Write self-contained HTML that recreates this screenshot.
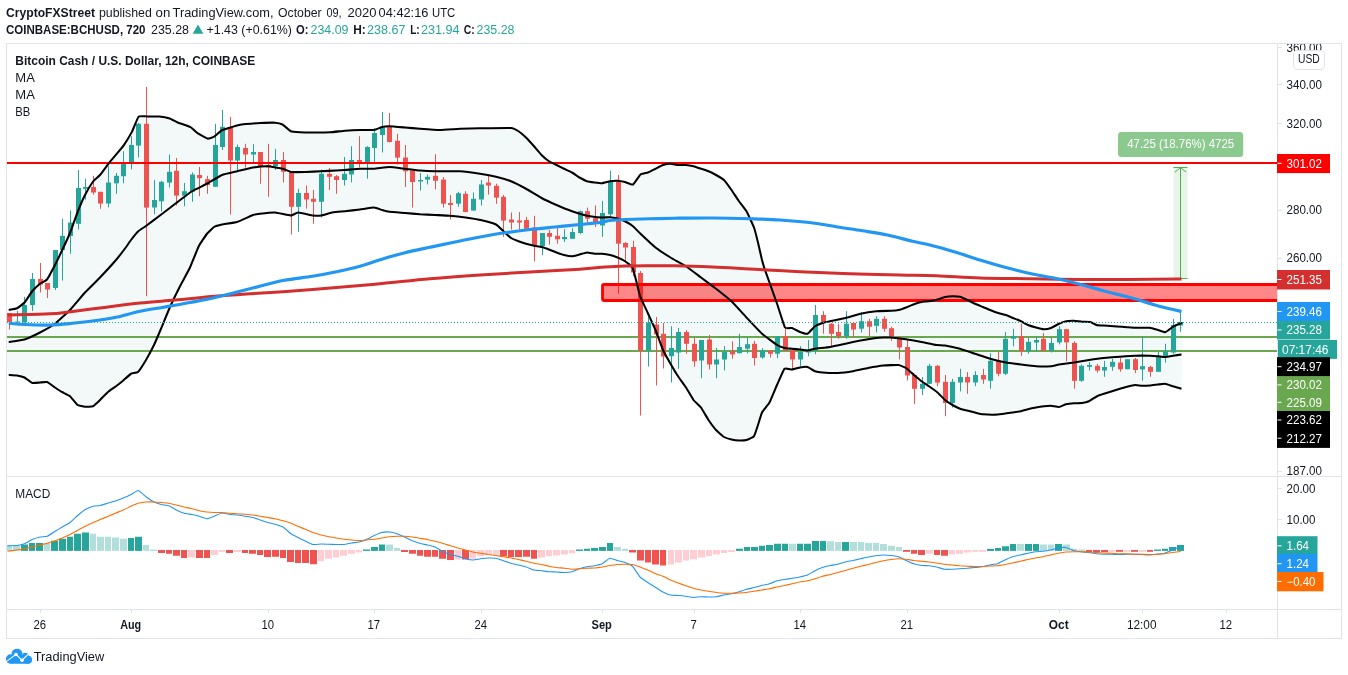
<!DOCTYPE html>
<html lang="en"><head><meta charset="utf-8"><title>BCHUSD chart</title>
<style>html,body{margin:0;padding:0;background:#fff}svg{display:block;will-change:transform}</style></head>
<body>
<svg width="1348" height="675" viewBox="0 0 1348 675" font-family="Liberation Sans, Arial, sans-serif">
<text x="6.00" y="16.60" font-size="12" fill="#131722" font-weight="bold" textLength="89.00" lengthAdjust="spacingAndGlyphs" >CryptoFXStreet</text>
<text x="98.90" y="16.60" font-size="12" fill="#131722" textLength="52.90" lengthAdjust="spacingAndGlyphs" >published</text>
<text x="155.60" y="16.60" font-size="12" fill="#131722" textLength="14.80" lengthAdjust="spacingAndGlyphs" >on</text>
<text x="172.60" y="16.60" font-size="12" fill="#131722" textLength="101.00" lengthAdjust="spacingAndGlyphs" >TradingView.com,</text>
<text x="278.00" y="16.60" font-size="12" fill="#131722" textLength="43.60" lengthAdjust="spacingAndGlyphs" >October</text>
<text x="326.40" y="16.60" font-size="12" fill="#131722" textLength="15.20" lengthAdjust="spacingAndGlyphs" >09,</text>
<text x="347.40" y="16.60" font-size="12" fill="#131722" textLength="29.00" lengthAdjust="spacingAndGlyphs" >2020</text>
<text x="378.60" y="16.60" font-size="12" fill="#131722" textLength="49.80" lengthAdjust="spacingAndGlyphs" >04:42:16</text>
<text x="432.00" y="16.60" font-size="12" fill="#131722" textLength="23.30" lengthAdjust="spacingAndGlyphs" >UTC</text>
<text x="6.00" y="33.60" font-size="12" fill="#131722" font-weight="bold" textLength="139.50" lengthAdjust="spacingAndGlyphs" >COINBASE:BCHUSD, 720</text>
<text x="151.00" y="33.60" font-size="12" fill="#131722" textLength="38.00" lengthAdjust="spacingAndGlyphs" >235.28</text>
<polygon points="192.7,33.7 198,24.4 203.3,33.7" fill="#26a69a"/>
<text x="206.50" y="33.60" font-size="12" fill="#131722" textLength="85.50" lengthAdjust="spacingAndGlyphs" >+1.43 (+0.61%)</text>
<text x="296.00" y="33.60" font-size="12" fill="#131722" font-weight="bold" textLength="12.50" lengthAdjust="spacingAndGlyphs" >O:</text>
<text x="310.50" y="33.60" font-size="12" fill="#26a69a" textLength="38.00" lengthAdjust="spacingAndGlyphs" >234.09</text>
<text x="353.20" y="33.60" font-size="12" fill="#131722" font-weight="bold" textLength="12.50" lengthAdjust="spacingAndGlyphs" >H:</text>
<text x="367.00" y="33.60" font-size="12" fill="#26a69a" textLength="38.50" lengthAdjust="spacingAndGlyphs" >238.67</text>
<text x="410.20" y="33.60" font-size="12" fill="#131722" font-weight="bold" textLength="9.50" lengthAdjust="spacingAndGlyphs" >L:</text>
<text x="421.00" y="33.60" font-size="12" fill="#26a69a" textLength="38.50" lengthAdjust="spacingAndGlyphs" >231.94</text>
<text x="463.80" y="33.60" font-size="12" fill="#131722" font-weight="bold" textLength="11.00" lengthAdjust="spacingAndGlyphs" >C:</text>
<text x="476.50" y="33.60" font-size="12" fill="#26a69a" textLength="38.00" lengthAdjust="spacingAndGlyphs" >235.28</text>
<g fill="none" stroke="#e0e3eb" stroke-width="1" shape-rendering="crispEdges">
<rect x="6.5" y="43.5" width="1335" height="595"/>
<path d="M1277.5 44V638M7 476.5H1341M7 609.5H1341"/>
</g>
<defs><clipPath id="cm"><rect x="7" y="44" width="1270" height="432"/></clipPath>
<clipPath id="cd"><rect x="7" y="477" width="1270" height="132"/></clipPath>
<clipPath id="ca"><rect x="1278" y="44" width="63" height="432"/></clipPath></defs>
<g clip-path="url(#cm)">
<path d="M8.75 310.00C9.23 309.90 16.08 308.69 17.00 308.25C17.92 307.81 23.61 303.49 24.50 302.50C25.39 301.51 31.35 292.34 32.25 291.25C33.15 290.16 39.14 284.44 40.00 283.75C40.86 283.06 46.12 280.59 47.00 279.50C47.88 278.41 54.12 266.69 55.00 265.00C55.88 263.31 61.12 252.37 62.00 250.50C62.88 248.63 69.07 235.30 70.00 233.00C70.93 230.70 77.12 213.22 78.00 211.00C78.88 208.78 84.11 196.74 85.00 195.00C85.89 193.26 92.38 182.42 93.25 181.25C94.12 180.08 99.09 176.06 100.00 175.00C100.91 173.94 107.97 164.29 108.90 163.10C109.83 161.91 115.14 155.64 116.00 154.60C116.86 153.56 122.77 146.62 123.70 145.30C124.63 143.98 131.03 133.57 131.90 131.90C132.77 130.23 137.74 117.50 138.60 116.60C139.46 115.70 145.49 116.40 146.70 116.40C147.91 116.40 157.96 116.47 159.30 116.60C160.64 116.73 168.66 118.27 169.70 118.60C170.74 118.93 175.99 121.80 177.20 122.30C178.41 122.80 189.29 126.55 190.50 127.20C191.71 127.85 196.90 132.74 197.90 133.40C198.90 134.06 206.65 138.41 207.60 138.60C208.55 138.79 213.38 137.18 214.20 136.70C215.02 136.22 220.74 130.94 221.70 130.40C222.66 129.86 229.65 127.80 230.60 127.50C231.55 127.20 237.14 125.50 238.00 125.30C238.86 125.10 244.11 124.23 245.40 124.10C246.69 123.97 258.47 123.08 260.20 123.00C261.93 122.92 273.80 122.61 275.10 122.70C276.40 122.79 281.59 124.00 282.50 124.50C283.41 125.00 289.68 130.75 290.70 131.20C291.72 131.65 298.70 132.12 300.00 132.20C301.30 132.28 311.25 132.49 313.00 132.50C314.75 132.51 328.13 132.40 330.00 132.30C331.87 132.20 343.25 130.88 345.00 130.75C346.75 130.62 358.31 130.04 360.00 130.00C361.69 129.96 372.72 130.18 374.00 130.00C375.28 129.82 381.10 127.22 382.00 127.00C382.90 126.78 388.16 126.22 389.50 126.25C390.84 126.28 403.22 127.35 405.00 127.50C406.78 127.65 417.96 128.60 420.00 128.75C422.04 128.90 437.67 130.00 440.00 130.00C442.33 130.00 457.67 128.85 460.00 128.75C462.33 128.65 477.02 128.29 480.00 128.25C482.98 128.21 508.75 127.83 511.00 128.00C513.25 128.18 517.62 130.70 518.50 131.25C519.38 131.80 525.10 136.62 526.00 137.50C526.90 138.38 533.10 145.23 534.00 146.25C534.90 147.27 540.62 154.12 541.50 155.00C542.38 155.88 548.12 160.67 549.00 161.25C549.88 161.83 555.62 164.56 556.50 165.00C557.38 165.44 563.10 168.31 564.00 168.75C564.90 169.19 571.10 171.99 572.00 172.50C572.90 173.01 578.62 176.99 579.50 177.50C580.38 178.01 586.12 180.96 587.00 181.25C587.88 181.54 593.62 182.38 594.50 182.50C595.38 182.62 601.10 183.32 602.00 183.25C602.90 183.18 609.10 181.40 610.00 181.25C610.90 181.10 616.62 180.71 617.50 180.75C618.38 180.79 624.10 181.78 625.00 182.00C625.90 182.22 632.10 184.94 633.00 184.50C633.90 184.06 639.62 175.20 640.50 174.50C641.38 173.80 647.12 172.84 648.00 172.50C648.88 172.16 654.62 169.19 655.50 168.75C656.38 168.31 662.12 165.29 663.00 165.00C663.88 164.71 669.62 163.75 670.50 163.75C671.38 163.75 677.10 164.93 678.00 165.00C678.90 165.07 685.10 164.93 686.00 165.00C686.90 165.07 692.62 166.03 693.50 166.25C694.38 166.47 700.12 168.46 701.00 168.75C701.88 169.04 707.62 170.89 708.50 171.25C709.38 171.61 715.10 174.49 716.00 175.00C716.90 175.51 723.10 179.12 724.00 180.00C724.90 180.88 730.62 188.76 731.50 190.00C732.38 191.24 738.12 200.01 739.00 201.25C739.88 202.49 745.62 209.72 746.50 211.25C747.38 212.78 753.33 225.68 754.00 227.50C754.67 229.32 757.53 240.60 758.00 242.50C758.47 244.40 761.59 258.40 762.00 260.00C762.41 261.60 764.56 268.69 765.00 270.00C765.44 271.31 768.77 280.46 769.50 282.50C770.23 284.54 776.60 302.38 777.50 305.00C778.40 307.62 784.15 326.16 785.00 327.50C785.85 328.84 791.12 327.74 792.00 328.00C792.88 328.26 799.10 331.66 800.00 332.00C800.90 332.34 806.62 334.09 807.50 333.75C808.38 333.41 814.12 326.88 815.00 326.25C815.88 325.62 821.62 323.29 822.50 323.00C823.38 322.71 828.66 321.54 830.00 321.25C831.34 320.96 843.72 318.44 845.50 318.00C847.28 317.56 858.72 314.14 860.50 313.75C862.28 313.36 874.22 311.43 876.00 311.25C877.78 311.07 889.69 310.82 891.00 310.75C892.31 310.68 897.62 310.19 898.50 310.00C899.38 309.81 905.10 307.84 906.00 307.50C906.90 307.16 913.10 304.57 914.00 304.25C914.90 303.93 920.62 302.18 921.50 302.00C922.38 301.82 928.07 301.40 929.00 301.25C929.93 301.10 936.57 299.75 937.50 299.50C938.43 299.25 944.12 297.19 945.00 297.00C945.88 296.81 951.62 296.26 952.50 296.25C953.38 296.24 959.12 296.53 960.00 296.75C960.88 296.97 966.62 299.59 967.50 300.00C968.38 300.41 974.10 303.34 975.00 303.75C975.90 304.16 982.12 306.64 983.00 307.00C983.88 307.36 989.12 309.65 990.00 310.00C990.88 310.35 997.07 312.71 998.00 313.00C998.93 313.29 1005.12 314.71 1006.00 315.00C1006.88 315.29 1012.12 317.64 1013.00 318.00C1013.88 318.36 1020.12 320.84 1021.00 321.25C1021.88 321.66 1027.12 324.64 1028.00 325.00C1028.88 325.36 1035.07 327.25 1036.00 327.50C1036.93 327.75 1043.12 329.22 1044.00 329.25C1044.88 329.28 1050.12 328.32 1051.00 328.00C1051.88 327.68 1058.12 324.14 1059.00 323.75C1059.88 323.36 1065.12 321.43 1066.00 321.25C1066.88 321.07 1073.07 320.72 1074.00 320.75C1074.93 320.78 1081.04 321.63 1082.00 321.70C1082.96 321.77 1089.57 321.71 1090.40 321.90C1091.23 322.09 1095.51 324.68 1096.30 324.90C1097.09 325.12 1102.79 325.51 1104.00 325.60C1105.21 325.69 1115.66 326.31 1117.00 326.40C1118.34 326.49 1125.95 327.12 1127.00 327.20C1128.05 327.28 1133.68 327.76 1135.00 327.80C1136.32 327.84 1148.36 327.67 1149.70 327.80C1151.04 327.93 1157.09 329.74 1158.00 330.00C1158.91 330.26 1164.40 332.51 1165.30 332.30C1166.20 332.09 1172.53 326.95 1173.50 326.40C1174.47 325.85 1181.50 323.10 1182.00 322.90L1181.50 388.75C1181.00 388.60 1173.96 386.54 1173.00 386.25C1172.04 385.96 1165.88 383.85 1165.00 383.75C1164.12 383.65 1158.88 384.40 1158.00 384.50C1157.12 384.60 1150.93 385.43 1150.00 385.50C1149.07 385.57 1142.88 385.78 1142.00 385.75C1141.12 385.72 1135.88 384.94 1135.00 385.00C1134.12 385.06 1127.88 386.53 1127.00 386.75C1126.12 386.97 1120.88 388.49 1120.00 388.75C1119.12 389.01 1112.93 390.96 1112.00 391.25C1111.07 391.54 1104.88 393.46 1104.00 393.75C1103.12 394.04 1097.88 395.81 1097.00 396.25C1096.12 396.69 1089.88 400.86 1089.00 401.25C1088.12 401.64 1082.88 402.88 1082.00 403.00C1081.12 403.12 1074.93 403.18 1074.00 403.25C1073.07 403.32 1066.88 404.03 1066.00 404.25C1065.12 404.47 1059.88 406.91 1059.00 407.00C1058.12 407.09 1051.88 405.79 1051.00 405.75C1050.12 405.71 1044.88 406.15 1044.00 406.25C1043.12 406.35 1036.93 407.32 1036.00 407.50C1035.07 407.68 1028.88 409.03 1028.00 409.25C1027.12 409.47 1021.88 411.06 1021.00 411.25C1020.12 411.44 1014.34 412.31 1013.00 412.50C1011.66 412.69 999.75 414.40 998.00 414.50C996.25 414.60 984.34 414.37 983.00 414.25C981.66 414.13 976.34 412.82 975.00 412.50C973.66 412.18 961.31 409.19 960.00 408.75C958.69 408.31 953.38 405.51 952.50 405.00C951.62 404.49 945.88 400.73 945.00 400.00C944.12 399.27 938.43 393.30 937.50 392.50C936.57 391.70 929.93 386.91 929.00 386.25C928.07 385.59 922.38 381.91 921.50 381.25C920.62 380.59 914.90 375.77 914.00 375.00C913.10 374.23 906.90 368.58 906.00 368.00C905.10 367.42 899.81 365.15 898.50 365.00C897.19 364.85 885.28 365.32 883.50 365.50C881.72 365.68 869.78 367.66 868.00 368.00C866.22 368.34 854.75 370.96 853.00 371.25C851.25 371.54 839.78 372.93 838.00 373.00C836.22 373.07 823.84 372.60 822.50 372.50C821.16 372.40 815.88 371.57 815.00 371.25C814.12 370.93 808.38 367.22 807.50 367.00C806.62 366.78 800.90 367.35 800.00 367.50C799.10 367.65 792.90 369.43 792.00 369.50C791.10 369.57 785.38 367.85 784.50 368.75C783.62 369.65 777.88 383.03 777.00 385.00C776.12 386.97 770.38 400.90 769.50 402.50C768.62 404.10 762.67 411.19 762.00 412.50C761.33 413.81 758.47 423.61 758.00 425.00C757.53 426.39 754.67 435.38 754.00 436.25C753.33 437.12 747.38 439.75 746.50 440.00C745.62 440.25 739.88 440.53 739.00 440.50C738.12 440.47 732.38 439.70 731.50 439.50C730.62 439.30 724.90 437.55 724.00 437.00C723.10 436.45 716.90 430.99 716.00 430.00C715.10 429.01 709.38 421.31 708.50 420.00C707.62 418.69 701.88 408.67 701.00 407.50C700.12 406.33 694.38 401.17 693.50 400.00C692.62 398.83 686.90 388.89 686.00 387.50C685.10 386.11 678.90 377.64 678.00 376.25C677.10 374.86 671.38 365.28 670.50 363.75C669.62 362.22 663.88 351.97 663.00 350.00C662.12 348.03 656.38 332.13 655.50 330.00C654.62 327.87 648.90 315.48 648.00 313.50C647.10 311.52 640.70 297.95 640.00 296.00C639.30 294.05 636.44 281.66 636.00 280.00C635.56 278.34 633.14 268.59 632.50 267.50C631.86 266.41 625.88 261.83 625.00 261.25C624.12 260.67 618.38 257.86 617.50 257.50C616.62 257.14 610.90 255.22 610.00 255.00C609.10 254.78 602.90 253.82 602.00 253.75C601.10 253.68 595.38 253.82 594.50 253.75C593.62 253.68 587.88 252.46 587.00 252.50C586.12 252.54 580.38 254.28 579.50 254.50C578.62 254.72 572.90 256.22 572.00 256.25C571.10 256.28 564.90 255.22 564.00 255.00C563.10 254.78 557.38 252.82 556.50 252.50C555.62 252.18 549.88 249.82 549.00 249.50C548.12 249.18 542.38 247.22 541.50 247.00C540.62 246.78 534.90 245.94 534.00 245.75C533.10 245.56 526.90 244.01 526.00 243.75C525.10 243.49 519.38 241.59 518.50 241.25C517.62 240.91 511.88 238.58 511.00 238.00C510.12 237.42 504.38 232.04 503.50 231.25C502.62 230.46 497.34 225.16 496.00 224.50C494.66 223.84 482.28 220.41 480.50 220.00C478.72 219.59 467.28 217.75 465.50 217.50C463.72 217.25 451.78 215.90 450.00 215.75C448.22 215.60 436.75 215.09 435.00 215.00C433.25 214.91 421.75 214.37 420.00 214.25C418.25 214.13 406.78 213.15 405.00 213.00C403.22 212.85 390.84 211.93 389.50 211.75C388.16 211.57 382.90 210.25 382.00 210.00C381.10 209.75 375.28 207.53 374.00 207.50C372.72 207.47 361.69 209.28 360.00 209.50C358.31 209.72 346.57 211.09 345.00 211.25C343.43 211.41 334.40 212.05 333.00 212.30C331.60 212.55 322.17 215.31 321.00 215.50C319.83 215.69 314.34 215.68 313.00 215.50C311.66 215.32 299.28 212.50 298.00 212.50C296.72 212.50 292.34 215.50 291.00 215.50C289.66 215.50 276.81 212.60 275.00 212.50C273.19 212.40 261.28 213.60 260.00 213.75C258.72 213.90 254.34 214.52 253.00 215.00C251.66 215.48 238.81 221.45 237.00 222.00C235.19 222.55 223.34 224.21 222.00 224.50C220.66 224.79 214.88 226.46 214.00 227.00C213.12 227.54 207.89 232.63 207.00 233.75C206.11 234.87 199.74 244.28 198.75 246.25C197.76 248.22 191.09 265.17 190.00 267.50C188.91 269.83 181.17 283.95 180.00 286.25C178.83 288.55 171.11 304.52 170.00 307.00C168.89 309.48 161.93 326.53 161.00 328.75C160.07 330.97 154.88 343.18 154.00 345.00C153.12 346.82 146.93 358.43 146.00 360.00C145.07 361.57 138.88 371.20 138.00 372.00C137.12 372.80 131.88 373.24 131.00 373.75C130.12 374.26 123.88 380.02 123.00 380.75C122.12 381.48 116.88 385.59 116.00 386.25C115.12 386.91 108.93 391.20 108.00 392.00C107.07 392.80 100.88 399.17 100.00 400.00C99.12 400.83 93.88 405.86 93.00 406.25C92.12 406.64 85.90 406.82 85.00 406.75C84.10 406.68 78.38 405.61 77.50 405.00C76.62 404.39 70.90 397.01 70.00 396.25C69.10 395.49 62.88 392.51 62.00 392.00C61.12 391.49 55.88 388.08 55.00 387.50C54.12 386.92 47.88 382.29 47.00 382.00C46.12 381.71 40.86 382.44 40.00 382.50C39.14 382.56 33.15 383.29 32.25 383.00C31.35 382.71 25.39 377.94 24.50 377.50C23.61 377.06 17.92 375.65 17.00 375.50C16.08 375.35 9.23 375.03 8.75 375.00 L7 375.00 L7 310.00 Z" fill="#f3f9f9" stroke="none"/>
<rect x="7" y="336" width="1270" height="2" fill="#6aa84f"/>
<rect x="7" y="350" width="1270" height="2" fill="#6aa84f"/>
<rect x="1173.5" y="167" width="14" height="111.5" fill="#e8f4e8"/>
<path d="M1180.5 167V278.5M1173.5 167.5H1187.5M1173.5 278.5H1187.5M1174.8 172.2L1180.5 167.5L1186.2 172.2" fill="none" stroke="#4caf50" stroke-width="1"/>
<g fill="#26a69a"><rect x="17" y="311.0" width="1" height="11.5"/><rect x="15" y="321.5" width="5" height="1.0"/><rect x="24" y="297.0" width="1" height="25.5"/><rect x="22" y="305.0" width="5" height="17.5"/><rect x="32" y="273.0" width="1" height="38.0"/><rect x="30" y="279.0" width="5" height="26.0"/><rect x="55" y="250.0" width="1" height="40.0"/><rect x="53" y="250.0" width="5" height="38.0"/><rect x="62" y="218.8" width="1" height="61.8"/><rect x="60" y="235.8" width="5" height="14.2"/><rect x="70" y="210.5" width="1" height="43.2"/><rect x="68" y="222.5" width="5" height="13.5"/><rect x="78" y="170.0" width="1" height="59.5"/><rect x="76" y="188.0" width="5" height="35.8"/><rect x="85" y="178.8" width="1" height="20.8"/><rect x="83" y="187.0" width="5" height="1.8"/><rect x="108" y="166.2" width="1" height="41.2"/><rect x="106" y="182.5" width="5" height="21.0"/><rect x="116" y="173.0" width="1" height="20.8"/><rect x="114" y="175.8" width="5" height="7.5"/><rect x="123" y="151.2" width="1" height="32.0"/><rect x="121" y="163.0" width="5" height="13.2"/><rect x="131" y="136.2" width="1" height="33.2"/><rect x="129" y="145.0" width="5" height="18.5"/><rect x="138" y="123.0" width="1" height="34.5"/><rect x="136" y="123.8" width="5" height="21.8"/><rect x="154" y="180.0" width="1" height="34.2"/><rect x="152" y="200.0" width="5" height="7.5"/><rect x="161" y="180.8" width="1" height="30.5"/><rect x="159" y="181.8" width="5" height="19.5"/><rect x="169" y="154.5" width="1" height="33.0"/><rect x="167" y="171.8" width="5" height="10.8"/><rect x="184" y="183.0" width="1" height="23.2"/><rect x="182" y="191.2" width="5" height="4.5"/><rect x="192" y="172.5" width="1" height="29.2"/><rect x="190" y="174.5" width="5" height="17.2"/><rect x="215" y="123.8" width="1" height="63.0"/><rect x="213" y="145.0" width="5" height="41.8"/><rect x="222" y="110.0" width="1" height="40.0"/><rect x="220" y="126.8" width="5" height="20.2"/><rect x="237" y="144.5" width="1" height="26.0"/><rect x="235" y="147.0" width="5" height="13.5"/><rect x="253" y="144.2" width="1" height="19.5"/><rect x="251" y="152.0" width="5" height="2.5"/><rect x="275" y="148.8" width="1" height="21.2"/><rect x="273" y="160.0" width="5" height="6.2"/><rect x="298" y="188.8" width="1" height="43.0"/><rect x="296" y="193.0" width="5" height="13.8"/><rect x="321" y="169.5" width="1" height="48.0"/><rect x="319" y="173.8" width="5" height="28.0"/><rect x="344" y="157.0" width="1" height="28.5"/><rect x="342" y="173.8" width="5" height="6.2"/><rect x="351" y="146.2" width="1" height="36.2"/><rect x="349" y="160.0" width="5" height="14.5"/><rect x="367" y="146.2" width="1" height="32.5"/><rect x="365" y="147.0" width="5" height="16.8"/><rect x="374" y="128.0" width="1" height="34.5"/><rect x="372" y="133.0" width="5" height="15.0"/><rect x="382" y="112.0" width="1" height="40.5"/><rect x="380" y="127.5" width="5" height="7.5"/><rect x="420" y="173.0" width="1" height="17.5"/><rect x="418" y="180.0" width="5" height="1.5"/><rect x="427" y="174.5" width="1" height="10.0"/><rect x="425" y="176.8" width="5" height="2.8"/><rect x="458" y="191.8" width="1" height="15.0"/><rect x="456" y="193.2" width="5" height="10.5"/><rect x="473" y="192.5" width="1" height="18.0"/><rect x="471" y="198.8" width="5" height="11.8"/><rect x="481" y="180.0" width="1" height="25.5"/><rect x="479" y="184.5" width="5" height="15.0"/><rect x="542" y="233.0" width="1" height="22.0"/><rect x="540" y="233.0" width="5" height="13.2"/><rect x="564" y="229.2" width="1" height="12.8"/><rect x="562" y="237.0" width="5" height="2.2"/><rect x="572" y="228.2" width="1" height="10.5"/><rect x="570" y="232.0" width="5" height="6.8"/><rect x="580" y="210.8" width="1" height="23.0"/><rect x="578" y="211.2" width="5" height="21.8"/><rect x="602" y="200.8" width="1" height="36.0"/><rect x="600" y="213.0" width="5" height="12.5"/><rect x="610" y="170.8" width="1" height="46.2"/><rect x="608" y="181.8" width="5" height="32.5"/><rect x="648" y="317.0" width="1" height="49.5"/><rect x="646" y="322.5" width="5" height="28.2"/><rect x="671" y="326.2" width="1" height="56.2"/><rect x="669" y="348.0" width="5" height="8.2"/><rect x="678" y="328.0" width="1" height="40.8"/><rect x="676" y="332.0" width="5" height="20.5"/><rect x="701" y="340.0" width="1" height="38.2"/><rect x="699" y="340.0" width="5" height="20.5"/><rect x="716" y="348.0" width="1" height="30.2"/><rect x="714" y="359.5" width="5" height="5.0"/><rect x="724" y="346.2" width="1" height="24.2"/><rect x="722" y="352.0" width="5" height="7.5"/><rect x="739" y="333.8" width="1" height="19.5"/><rect x="737" y="347.0" width="5" height="6.2"/><rect x="747" y="337.5" width="1" height="15.8"/><rect x="745" y="344.2" width="5" height="4.5"/><rect x="762" y="348.0" width="1" height="10.8"/><rect x="760" y="350.5" width="5" height="7.0"/><rect x="777" y="336.2" width="1" height="22.0"/><rect x="775" y="336.2" width="5" height="17.5"/><rect x="800" y="346.2" width="1" height="20.0"/><rect x="798" y="352.0" width="5" height="7.5"/><rect x="808" y="340.0" width="1" height="16.2"/><rect x="806" y="349.5" width="5" height="3.0"/><rect x="815" y="305.0" width="1" height="49.2"/><rect x="813" y="315.0" width="5" height="35.8"/><rect x="846" y="311.2" width="1" height="27.5"/><rect x="844" y="323.8" width="5" height="12.5"/><rect x="861" y="312.0" width="1" height="20.5"/><rect x="859" y="321.2" width="5" height="7.5"/><rect x="876" y="316.2" width="1" height="16.2"/><rect x="874" y="318.8" width="5" height="7.0"/><rect x="922" y="377.0" width="1" height="18.0"/><rect x="920" y="383.8" width="5" height="5.0"/><rect x="929" y="363.8" width="1" height="20.0"/><rect x="927" y="365.8" width="5" height="18.0"/><rect x="952" y="378.8" width="1" height="28.8"/><rect x="950" y="381.8" width="5" height="21.2"/><rect x="960" y="368.8" width="1" height="22.5"/><rect x="958" y="377.0" width="5" height="5.5"/><rect x="975" y="371.2" width="1" height="15.0"/><rect x="973" y="375.0" width="5" height="7.5"/><rect x="990" y="353.2" width="1" height="35.5"/><rect x="988" y="360.8" width="5" height="20.0"/><rect x="1005" y="332.0" width="1" height="43.0"/><rect x="1003" y="338.8" width="5" height="35.0"/><rect x="1013" y="328.8" width="1" height="17.5"/><rect x="1011" y="336.2" width="5" height="2.5"/><rect x="1028" y="337.5" width="1" height="16.2"/><rect x="1026" y="341.8" width="5" height="9.5"/><rect x="1036" y="336.2" width="1" height="15.0"/><rect x="1034" y="340.0" width="5" height="2.5"/><rect x="1051" y="337.5" width="1" height="15.0"/><rect x="1049" y="343.0" width="5" height="7.8"/><rect x="1059" y="326.2" width="1" height="18.2"/><rect x="1057" y="329.2" width="5" height="13.2"/><rect x="1081" y="364.5" width="1" height="17.2"/><rect x="1079" y="365.8" width="5" height="15.0"/><rect x="1089" y="362.0" width="1" height="8.5"/><rect x="1087" y="365.0" width="5" height="1.8"/><rect x="1104" y="360.8" width="1" height="16.0"/><rect x="1102" y="367.0" width="5" height="3.5"/><rect x="1112" y="358.8" width="1" height="12.0"/><rect x="1110" y="361.8" width="5" height="5.0"/><rect x="1127" y="359.2" width="1" height="10.0"/><rect x="1125" y="359.2" width="5" height="10.0"/><rect x="1142" y="336.2" width="1" height="44.5"/><rect x="1140" y="366.2" width="5" height="3.2"/><rect x="1158" y="352.0" width="1" height="19.8"/><rect x="1156" y="357.0" width="5" height="14.8"/><rect x="1165" y="343.8" width="1" height="18.8"/><rect x="1163" y="351.2" width="5" height="6.2"/><rect x="1173" y="318.8" width="1" height="35.0"/><rect x="1171" y="325.0" width="5" height="27.5"/><rect x="1180" y="311.2" width="1" height="20.5"/><rect x="1178" y="322.0" width="5" height="3.5"/></g>
<g fill="#ef5350"><rect x="9" y="313.0" width="1" height="16.5"/><rect x="7" y="313.0" width="5" height="9.0"/><rect x="40" y="263.0" width="1" height="29.5"/><rect x="38" y="279.0" width="5" height="5.5"/><rect x="47" y="283.0" width="1" height="15.0"/><rect x="45" y="283.0" width="5" height="6.5"/><rect x="93" y="175.8" width="1" height="18.8"/><rect x="91" y="187.0" width="5" height="5.5"/><rect x="100" y="191.8" width="1" height="17.0"/><rect x="98" y="191.8" width="5" height="11.8"/><rect x="146" y="87.0" width="1" height="209.2"/><rect x="144" y="123.8" width="5" height="83.8"/><rect x="176" y="158.0" width="1" height="47.5"/><rect x="174" y="170.8" width="5" height="24.8"/><rect x="199" y="167.0" width="1" height="29.2"/><rect x="197" y="175.0" width="5" height="3.2"/><rect x="207" y="175.8" width="1" height="18.0"/><rect x="205" y="179.2" width="5" height="5.8"/><rect x="230" y="117.0" width="1" height="97.5"/><rect x="228" y="127.5" width="5" height="33.0"/><rect x="245" y="143.8" width="1" height="23.8"/><rect x="243" y="148.0" width="5" height="6.5"/><rect x="260" y="152.0" width="1" height="31.8"/><rect x="258" y="152.0" width="5" height="14.2"/><rect x="268" y="143.8" width="1" height="53.0"/><rect x="266" y="165.0" width="5" height="2.5"/><rect x="283" y="152.0" width="1" height="30.5"/><rect x="281" y="160.0" width="5" height="11.8"/><rect x="291" y="172.0" width="1" height="62.5"/><rect x="289" y="172.0" width="5" height="34.8"/><rect x="306" y="185.5" width="1" height="23.2"/><rect x="304" y="193.0" width="5" height="6.5"/><rect x="313" y="190.0" width="1" height="33.8"/><rect x="311" y="198.8" width="5" height="3.0"/><rect x="329" y="168.0" width="1" height="22.0"/><rect x="327" y="173.8" width="5" height="3.0"/><rect x="336" y="175.0" width="1" height="18.8"/><rect x="334" y="176.2" width="5" height="3.8"/><rect x="359" y="136.2" width="1" height="31.2"/><rect x="357" y="160.0" width="5" height="3.8"/><rect x="389" y="113.0" width="1" height="29.5"/><rect x="387" y="127.0" width="5" height="15.0"/><rect x="397" y="133.8" width="1" height="30.8"/><rect x="395" y="140.8" width="5" height="16.8"/><rect x="405" y="145.0" width="1" height="42.0"/><rect x="403" y="157.5" width="5" height="13.8"/><rect x="412" y="170.0" width="1" height="37.5"/><rect x="410" y="170.5" width="5" height="11.5"/><rect x="435" y="154.2" width="1" height="35.2"/><rect x="433" y="175.8" width="5" height="5.0"/><rect x="443" y="177.0" width="1" height="30.5"/><rect x="441" y="179.5" width="5" height="24.2"/><rect x="450" y="195.0" width="1" height="24.5"/><rect x="448" y="203.0" width="5" height="2.0"/><rect x="465" y="191.2" width="1" height="21.2"/><rect x="463" y="193.8" width="5" height="18.2"/><rect x="488" y="175.8" width="1" height="18.8"/><rect x="486" y="182.5" width="5" height="3.0"/><rect x="496" y="183.8" width="1" height="20.0"/><rect x="494" y="185.8" width="5" height="11.8"/><rect x="503" y="195.0" width="1" height="41.8"/><rect x="501" y="196.8" width="5" height="23.8"/><rect x="511" y="212.5" width="1" height="17.0"/><rect x="509" y="219.5" width="5" height="3.0"/><rect x="519" y="212.0" width="1" height="18.0"/><rect x="517" y="220.5" width="5" height="2.0"/><rect x="526" y="216.8" width="1" height="12.0"/><rect x="524" y="220.0" width="5" height="8.8"/><rect x="534" y="215.8" width="1" height="45.5"/><rect x="532" y="227.5" width="5" height="18.0"/><rect x="549" y="230.0" width="1" height="14.5"/><rect x="547" y="233.0" width="5" height="3.8"/><rect x="557" y="226.2" width="1" height="17.5"/><rect x="555" y="235.8" width="5" height="3.5"/><rect x="587" y="207.5" width="1" height="16.2"/><rect x="585" y="211.2" width="5" height="7.5"/><rect x="595" y="205.5" width="1" height="21.5"/><rect x="593" y="218.2" width="5" height="4.2"/><rect x="618" y="175.0" width="1" height="118.8"/><rect x="616" y="181.2" width="5" height="62.5"/><rect x="625" y="242.0" width="1" height="19.0"/><rect x="623" y="243.0" width="5" height="4.5"/><rect x="633" y="240.8" width="1" height="35.5"/><rect x="631" y="247.0" width="5" height="25.5"/><rect x="640" y="271.0" width="1" height="144.5"/><rect x="638" y="273.0" width="5" height="77.8"/><rect x="656" y="317.0" width="1" height="68.5"/><rect x="654" y="324.5" width="5" height="10.0"/><rect x="663" y="323.0" width="1" height="45.5"/><rect x="661" y="333.8" width="5" height="22.8"/><rect x="686" y="330.0" width="1" height="23.8"/><rect x="684" y="332.0" width="5" height="11.8"/><rect x="694" y="337.5" width="1" height="29.2"/><rect x="692" y="343.8" width="5" height="17.5"/><rect x="709" y="335.0" width="1" height="34.5"/><rect x="707" y="339.5" width="5" height="25.0"/><rect x="732" y="341.2" width="1" height="17.5"/><rect x="730" y="351.2" width="5" height="3.2"/><rect x="754" y="340.8" width="1" height="24.8"/><rect x="752" y="343.8" width="5" height="14.2"/><rect x="770" y="350.0" width="1" height="7.5"/><rect x="768" y="350.8" width="5" height="3.0"/><rect x="785" y="328.8" width="1" height="22.0"/><rect x="783" y="336.2" width="5" height="14.5"/><rect x="792" y="350.0" width="1" height="18.8"/><rect x="790" y="350.0" width="5" height="9.5"/><rect x="823" y="311.2" width="1" height="22.5"/><rect x="821" y="315.0" width="5" height="7.5"/><rect x="831" y="323.0" width="1" height="23.2"/><rect x="829" y="323.8" width="5" height="10.0"/><rect x="838" y="323.8" width="1" height="15.0"/><rect x="836" y="332.0" width="5" height="4.2"/><rect x="853" y="322.5" width="1" height="15.0"/><rect x="851" y="323.0" width="5" height="6.5"/><rect x="869" y="318.8" width="1" height="17.5"/><rect x="867" y="321.2" width="5" height="5.5"/><rect x="884" y="316.2" width="1" height="15.5"/><rect x="882" y="318.8" width="5" height="10.0"/><rect x="891" y="326.8" width="1" height="14.0"/><rect x="889" y="328.2" width="5" height="8.0"/><rect x="899" y="336.2" width="1" height="23.2"/><rect x="897" y="337.5" width="5" height="10.0"/><rect x="907" y="340.0" width="1" height="40.5"/><rect x="905" y="347.0" width="5" height="28.5"/><rect x="914" y="375.0" width="1" height="28.8"/><rect x="912" y="375.0" width="5" height="13.8"/><rect x="937" y="365.0" width="1" height="21.2"/><rect x="935" y="365.8" width="5" height="16.8"/><rect x="945" y="375.0" width="1" height="41.2"/><rect x="943" y="381.8" width="5" height="21.2"/><rect x="967" y="372.0" width="1" height="21.8"/><rect x="965" y="377.0" width="5" height="5.5"/><rect x="983" y="368.8" width="1" height="15.0"/><rect x="981" y="375.0" width="5" height="4.5"/><rect x="998" y="352.0" width="1" height="24.2"/><rect x="996" y="360.8" width="5" height="13.0"/><rect x="1021" y="323.8" width="1" height="32.0"/><rect x="1019" y="336.2" width="5" height="15.0"/><rect x="1043" y="333.0" width="1" height="17.8"/><rect x="1041" y="338.8" width="5" height="12.0"/><rect x="1066" y="329.2" width="1" height="32.0"/><rect x="1064" y="329.2" width="5" height="13.2"/><rect x="1074" y="341.2" width="1" height="47.5"/><rect x="1072" y="343.0" width="5" height="37.8"/><rect x="1097" y="363.8" width="1" height="8.8"/><rect x="1095" y="365.8" width="5" height="4.8"/><rect x="1120" y="358.2" width="1" height="13.5"/><rect x="1118" y="362.5" width="5" height="6.8"/><rect x="1135" y="358.0" width="1" height="15.0"/><rect x="1133" y="359.2" width="5" height="10.8"/><rect x="1150" y="365.8" width="1" height="11.0"/><rect x="1148" y="367.0" width="5" height="4.8"/></g>
<rect x="7" y="162" width="1270" height="2" fill="#ff0000"/>
<rect x="602.5" y="284.5" width="700" height="16" rx="1.4" fill="#ff0000" fill-opacity="0.47" stroke="#ff0000" stroke-width="2.8"/>
<path d="M8.75 310.00C9.23 309.90 16.08 308.69 17.00 308.25C17.92 307.81 23.61 303.49 24.50 302.50C25.39 301.51 31.35 292.34 32.25 291.25C33.15 290.16 39.14 284.44 40.00 283.75C40.86 283.06 46.12 280.59 47.00 279.50C47.88 278.41 54.12 266.69 55.00 265.00C55.88 263.31 61.12 252.37 62.00 250.50C62.88 248.63 69.07 235.30 70.00 233.00C70.93 230.70 77.12 213.22 78.00 211.00C78.88 208.78 84.11 196.74 85.00 195.00C85.89 193.26 92.38 182.42 93.25 181.25C94.12 180.08 99.09 176.06 100.00 175.00C100.91 173.94 107.97 164.29 108.90 163.10C109.83 161.91 115.14 155.64 116.00 154.60C116.86 153.56 122.77 146.62 123.70 145.30C124.63 143.98 131.03 133.57 131.90 131.90C132.77 130.23 137.74 117.50 138.60 116.60C139.46 115.70 145.49 116.40 146.70 116.40C147.91 116.40 157.96 116.47 159.30 116.60C160.64 116.73 168.66 118.27 169.70 118.60C170.74 118.93 175.99 121.80 177.20 122.30C178.41 122.80 189.29 126.55 190.50 127.20C191.71 127.85 196.90 132.74 197.90 133.40C198.90 134.06 206.65 138.41 207.60 138.60C208.55 138.79 213.38 137.18 214.20 136.70C215.02 136.22 220.74 130.94 221.70 130.40C222.66 129.86 229.65 127.80 230.60 127.50C231.55 127.20 237.14 125.50 238.00 125.30C238.86 125.10 244.11 124.23 245.40 124.10C246.69 123.97 258.47 123.08 260.20 123.00C261.93 122.92 273.80 122.61 275.10 122.70C276.40 122.79 281.59 124.00 282.50 124.50C283.41 125.00 289.68 130.75 290.70 131.20C291.72 131.65 298.70 132.12 300.00 132.20C301.30 132.28 311.25 132.49 313.00 132.50C314.75 132.51 328.13 132.40 330.00 132.30C331.87 132.20 343.25 130.88 345.00 130.75C346.75 130.62 358.31 130.04 360.00 130.00C361.69 129.96 372.72 130.18 374.00 130.00C375.28 129.82 381.10 127.22 382.00 127.00C382.90 126.78 388.16 126.22 389.50 126.25C390.84 126.28 403.22 127.35 405.00 127.50C406.78 127.65 417.96 128.60 420.00 128.75C422.04 128.90 437.67 130.00 440.00 130.00C442.33 130.00 457.67 128.85 460.00 128.75C462.33 128.65 477.02 128.29 480.00 128.25C482.98 128.21 508.75 127.83 511.00 128.00C513.25 128.18 517.62 130.70 518.50 131.25C519.38 131.80 525.10 136.62 526.00 137.50C526.90 138.38 533.10 145.23 534.00 146.25C534.90 147.27 540.62 154.12 541.50 155.00C542.38 155.88 548.12 160.67 549.00 161.25C549.88 161.83 555.62 164.56 556.50 165.00C557.38 165.44 563.10 168.31 564.00 168.75C564.90 169.19 571.10 171.99 572.00 172.50C572.90 173.01 578.62 176.99 579.50 177.50C580.38 178.01 586.12 180.96 587.00 181.25C587.88 181.54 593.62 182.38 594.50 182.50C595.38 182.62 601.10 183.32 602.00 183.25C602.90 183.18 609.10 181.40 610.00 181.25C610.90 181.10 616.62 180.71 617.50 180.75C618.38 180.79 624.10 181.78 625.00 182.00C625.90 182.22 632.10 184.94 633.00 184.50C633.90 184.06 639.62 175.20 640.50 174.50C641.38 173.80 647.12 172.84 648.00 172.50C648.88 172.16 654.62 169.19 655.50 168.75C656.38 168.31 662.12 165.29 663.00 165.00C663.88 164.71 669.62 163.75 670.50 163.75C671.38 163.75 677.10 164.93 678.00 165.00C678.90 165.07 685.10 164.93 686.00 165.00C686.90 165.07 692.62 166.03 693.50 166.25C694.38 166.47 700.12 168.46 701.00 168.75C701.88 169.04 707.62 170.89 708.50 171.25C709.38 171.61 715.10 174.49 716.00 175.00C716.90 175.51 723.10 179.12 724.00 180.00C724.90 180.88 730.62 188.76 731.50 190.00C732.38 191.24 738.12 200.01 739.00 201.25C739.88 202.49 745.62 209.72 746.50 211.25C747.38 212.78 753.33 225.68 754.00 227.50C754.67 229.32 757.53 240.60 758.00 242.50C758.47 244.40 761.59 258.40 762.00 260.00C762.41 261.60 764.56 268.69 765.00 270.00C765.44 271.31 768.77 280.46 769.50 282.50C770.23 284.54 776.60 302.38 777.50 305.00C778.40 307.62 784.15 326.16 785.00 327.50C785.85 328.84 791.12 327.74 792.00 328.00C792.88 328.26 799.10 331.66 800.00 332.00C800.90 332.34 806.62 334.09 807.50 333.75C808.38 333.41 814.12 326.88 815.00 326.25C815.88 325.62 821.62 323.29 822.50 323.00C823.38 322.71 828.66 321.54 830.00 321.25C831.34 320.96 843.72 318.44 845.50 318.00C847.28 317.56 858.72 314.14 860.50 313.75C862.28 313.36 874.22 311.43 876.00 311.25C877.78 311.07 889.69 310.82 891.00 310.75C892.31 310.68 897.62 310.19 898.50 310.00C899.38 309.81 905.10 307.84 906.00 307.50C906.90 307.16 913.10 304.57 914.00 304.25C914.90 303.93 920.62 302.18 921.50 302.00C922.38 301.82 928.07 301.40 929.00 301.25C929.93 301.10 936.57 299.75 937.50 299.50C938.43 299.25 944.12 297.19 945.00 297.00C945.88 296.81 951.62 296.26 952.50 296.25C953.38 296.24 959.12 296.53 960.00 296.75C960.88 296.97 966.62 299.59 967.50 300.00C968.38 300.41 974.10 303.34 975.00 303.75C975.90 304.16 982.12 306.64 983.00 307.00C983.88 307.36 989.12 309.65 990.00 310.00C990.88 310.35 997.07 312.71 998.00 313.00C998.93 313.29 1005.12 314.71 1006.00 315.00C1006.88 315.29 1012.12 317.64 1013.00 318.00C1013.88 318.36 1020.12 320.84 1021.00 321.25C1021.88 321.66 1027.12 324.64 1028.00 325.00C1028.88 325.36 1035.07 327.25 1036.00 327.50C1036.93 327.75 1043.12 329.22 1044.00 329.25C1044.88 329.28 1050.12 328.32 1051.00 328.00C1051.88 327.68 1058.12 324.14 1059.00 323.75C1059.88 323.36 1065.12 321.43 1066.00 321.25C1066.88 321.07 1073.07 320.72 1074.00 320.75C1074.93 320.78 1081.04 321.63 1082.00 321.70C1082.96 321.77 1089.57 321.71 1090.40 321.90C1091.23 322.09 1095.51 324.68 1096.30 324.90C1097.09 325.12 1102.79 325.51 1104.00 325.60C1105.21 325.69 1115.66 326.31 1117.00 326.40C1118.34 326.49 1125.95 327.12 1127.00 327.20C1128.05 327.28 1133.68 327.76 1135.00 327.80C1136.32 327.84 1148.36 327.67 1149.70 327.80C1151.04 327.93 1157.09 329.74 1158.00 330.00C1158.91 330.26 1164.40 332.51 1165.30 332.30C1166.20 332.09 1172.53 326.95 1173.50 326.40C1174.47 325.85 1181.50 323.10 1182.00 322.90" fill="none" stroke="#000" stroke-width="2.05" stroke-linejoin="round"/>
<path d="M8.75 342.00C9.67 341.85 22.68 340.05 24.50 339.50C26.32 338.95 38.22 333.42 40.00 332.50C41.78 331.58 53.25 325.06 55.00 323.75C56.75 322.44 68.25 311.82 70.00 310.00C71.75 308.18 83.25 294.40 85.00 292.50C86.75 290.60 98.19 279.40 100.00 277.50C101.81 275.60 114.54 261.69 116.00 260.00C117.46 258.31 124.12 249.67 125.00 248.50C125.88 247.33 130.23 241.01 131.00 240.00C131.77 238.99 137.36 232.08 138.25 231.25C139.14 230.42 144.91 226.73 146.25 225.75C147.59 224.77 159.50 215.83 161.25 214.50C163.00 213.17 174.46 204.36 176.25 203.00C178.04 201.64 190.21 192.37 192.00 191.25C193.79 190.13 205.25 184.70 207.00 183.75C208.75 182.80 220.24 175.73 222.00 175.00C223.76 174.27 235.44 171.69 237.25 171.25C239.06 170.81 251.21 167.79 253.00 167.50C254.79 167.21 266.25 166.18 268.00 166.25C269.75 166.32 281.66 168.41 283.00 168.75C284.34 169.09 289.67 171.81 291.00 172.00C292.33 172.19 304.00 172.04 305.75 172.00C307.50 171.96 319.24 171.34 321.00 171.25C322.76 171.16 334.60 170.57 336.00 170.50C337.40 170.43 343.60 170.10 345.00 170.00C346.40 169.90 358.31 168.82 360.00 168.75C361.69 168.68 372.28 168.85 374.00 168.75C375.72 168.65 387.69 167.00 389.50 167.00C391.31 167.00 403.22 168.55 405.00 168.75C406.78 168.95 418.25 170.35 420.00 170.50C421.75 170.65 432.67 171.21 435.00 171.25C437.33 171.29 457.38 171.10 460.00 171.25C462.62 171.40 477.90 173.43 480.00 173.75C482.10 174.07 494.19 176.31 496.00 176.75C497.81 177.19 509.25 180.55 511.00 181.25C512.75 181.95 524.22 187.77 526.00 188.75C527.78 189.73 539.72 197.05 541.50 198.00C543.28 198.95 554.72 204.23 556.50 205.00C558.28 205.77 570.22 210.62 572.00 211.25C573.78 211.88 585.25 215.39 587.00 215.75C588.75 216.11 600.66 217.41 602.00 217.50C603.34 217.59 609.10 217.19 610.00 217.25C610.90 217.31 616.62 218.27 617.50 218.50C618.38 218.73 624.10 220.80 625.00 221.25C625.90 221.70 632.10 225.52 633.00 226.25C633.90 226.98 639.19 232.51 640.50 233.75C641.81 234.99 653.75 246.11 655.50 247.50C657.25 248.89 668.72 256.41 670.50 257.50C672.28 258.59 684.22 265.08 686.00 266.25C687.78 267.42 699.25 276.19 701.00 277.50C702.75 278.81 714.22 287.36 716.00 288.75C717.78 290.14 729.72 299.57 731.50 301.25C733.28 302.93 744.72 315.60 746.50 317.50C748.28 319.40 760.22 332.15 762.00 333.75C763.78 335.35 775.69 344.17 777.00 345.00C778.31 345.83 783.62 347.78 784.50 348.00C785.38 348.22 791.10 348.66 792.00 348.75C792.90 348.84 799.10 349.40 800.00 349.50C800.90 349.60 806.62 350.54 807.50 350.50C808.38 350.46 813.69 348.95 815.00 348.75C816.31 348.55 828.22 347.29 830.00 347.00C831.78 346.71 843.72 344.13 845.50 343.75C847.28 343.37 858.72 340.84 860.50 340.50C862.28 340.16 874.66 338.18 876.00 338.00C877.34 337.82 882.62 337.53 883.50 337.50C884.38 337.47 889.69 337.40 891.00 337.50C892.31 337.60 904.22 338.99 906.00 339.25C907.78 339.51 919.72 341.66 921.50 342.00C923.28 342.34 935.13 344.80 936.50 345.00C937.87 345.20 943.63 345.28 945.00 345.50C946.37 345.72 958.25 348.27 960.00 348.75C961.75 349.23 973.25 353.17 975.00 353.75C976.75 354.33 988.19 358.24 990.00 358.75C991.81 359.26 1004.19 362.16 1006.00 362.50C1007.81 362.84 1019.25 364.28 1021.00 364.50C1022.75 364.72 1034.25 366.15 1036.00 366.25C1037.75 366.35 1049.66 366.35 1051.00 366.25C1052.34 366.15 1057.66 364.72 1059.00 364.50C1060.34 364.28 1072.25 362.76 1074.00 362.50C1075.75 362.24 1087.25 360.26 1089.00 360.00C1090.75 359.74 1102.19 358.19 1104.00 358.00C1105.81 357.81 1118.19 356.88 1120.00 356.75C1121.81 356.62 1133.25 355.81 1135.00 355.75C1136.75 355.69 1148.66 355.72 1150.00 355.75C1151.34 355.78 1157.12 356.18 1158.00 356.25C1158.88 356.32 1164.12 357.03 1165.00 357.00C1165.88 356.97 1172.04 355.90 1173.00 355.75C1173.96 355.60 1181.00 354.57 1181.50 354.50" fill="none" stroke="#000" stroke-width="2.05" stroke-linejoin="round"/>
<path d="M8.75 375.00C9.23 375.03 16.08 375.35 17.00 375.50C17.92 375.65 23.61 377.06 24.50 377.50C25.39 377.94 31.35 382.71 32.25 383.00C33.15 383.29 39.14 382.56 40.00 382.50C40.86 382.44 46.12 381.71 47.00 382.00C47.88 382.29 54.12 386.92 55.00 387.50C55.88 388.08 61.12 391.49 62.00 392.00C62.88 392.51 69.10 395.49 70.00 396.25C70.90 397.01 76.62 404.39 77.50 405.00C78.38 405.61 84.10 406.68 85.00 406.75C85.90 406.82 92.12 406.64 93.00 406.25C93.88 405.86 99.12 400.83 100.00 400.00C100.88 399.17 107.07 392.80 108.00 392.00C108.93 391.20 115.12 386.91 116.00 386.25C116.88 385.59 122.12 381.48 123.00 380.75C123.88 380.02 130.12 374.26 131.00 373.75C131.88 373.24 137.12 372.80 138.00 372.00C138.88 371.20 145.07 361.57 146.00 360.00C146.93 358.43 153.12 346.82 154.00 345.00C154.88 343.18 160.07 330.97 161.00 328.75C161.93 326.53 168.89 309.48 170.00 307.00C171.11 304.52 178.83 288.55 180.00 286.25C181.17 283.95 188.91 269.83 190.00 267.50C191.09 265.17 197.76 248.22 198.75 246.25C199.74 244.28 206.11 234.87 207.00 233.75C207.89 232.63 213.12 227.54 214.00 227.00C214.88 226.46 220.66 224.79 222.00 224.50C223.34 224.21 235.19 222.55 237.00 222.00C238.81 221.45 251.66 215.48 253.00 215.00C254.34 214.52 258.72 213.90 260.00 213.75C261.28 213.60 273.19 212.40 275.00 212.50C276.81 212.60 289.66 215.50 291.00 215.50C292.34 215.50 296.72 212.50 298.00 212.50C299.28 212.50 311.66 215.32 313.00 215.50C314.34 215.68 319.83 215.69 321.00 215.50C322.17 215.31 331.60 212.55 333.00 212.30C334.40 212.05 343.43 211.41 345.00 211.25C346.57 211.09 358.31 209.72 360.00 209.50C361.69 209.28 372.72 207.47 374.00 207.50C375.28 207.53 381.10 209.75 382.00 210.00C382.90 210.25 388.16 211.57 389.50 211.75C390.84 211.93 403.22 212.85 405.00 213.00C406.78 213.15 418.25 214.13 420.00 214.25C421.75 214.37 433.25 214.91 435.00 215.00C436.75 215.09 448.22 215.60 450.00 215.75C451.78 215.90 463.72 217.25 465.50 217.50C467.28 217.75 478.72 219.59 480.50 220.00C482.28 220.41 494.66 223.84 496.00 224.50C497.34 225.16 502.62 230.46 503.50 231.25C504.38 232.04 510.12 237.42 511.00 238.00C511.88 238.58 517.62 240.91 518.50 241.25C519.38 241.59 525.10 243.49 526.00 243.75C526.90 244.01 533.10 245.56 534.00 245.75C534.90 245.94 540.62 246.78 541.50 247.00C542.38 247.22 548.12 249.18 549.00 249.50C549.88 249.82 555.62 252.18 556.50 252.50C557.38 252.82 563.10 254.78 564.00 255.00C564.90 255.22 571.10 256.28 572.00 256.25C572.90 256.22 578.62 254.72 579.50 254.50C580.38 254.28 586.12 252.54 587.00 252.50C587.88 252.46 593.62 253.68 594.50 253.75C595.38 253.82 601.10 253.68 602.00 253.75C602.90 253.82 609.10 254.78 610.00 255.00C610.90 255.22 616.62 257.14 617.50 257.50C618.38 257.86 624.12 260.67 625.00 261.25C625.88 261.83 631.86 266.41 632.50 267.50C633.14 268.59 635.56 278.34 636.00 280.00C636.44 281.66 639.30 294.05 640.00 296.00C640.70 297.95 647.10 311.52 648.00 313.50C648.90 315.48 654.62 327.87 655.50 330.00C656.38 332.13 662.12 348.03 663.00 350.00C663.88 351.97 669.62 362.22 670.50 363.75C671.38 365.28 677.10 374.86 678.00 376.25C678.90 377.64 685.10 386.11 686.00 387.50C686.90 388.89 692.62 398.83 693.50 400.00C694.38 401.17 700.12 406.33 701.00 407.50C701.88 408.67 707.62 418.69 708.50 420.00C709.38 421.31 715.10 429.01 716.00 430.00C716.90 430.99 723.10 436.45 724.00 437.00C724.90 437.55 730.62 439.30 731.50 439.50C732.38 439.70 738.12 440.47 739.00 440.50C739.88 440.53 745.62 440.25 746.50 440.00C747.38 439.75 753.33 437.12 754.00 436.25C754.67 435.38 757.53 426.39 758.00 425.00C758.47 423.61 761.33 413.81 762.00 412.50C762.67 411.19 768.62 404.10 769.50 402.50C770.38 400.90 776.12 386.97 777.00 385.00C777.88 383.03 783.62 369.65 784.50 368.75C785.38 367.85 791.10 369.57 792.00 369.50C792.90 369.43 799.10 367.65 800.00 367.50C800.90 367.35 806.62 366.78 807.50 367.00C808.38 367.22 814.12 370.93 815.00 371.25C815.88 371.57 821.16 372.40 822.50 372.50C823.84 372.60 836.22 373.07 838.00 373.00C839.78 372.93 851.25 371.54 853.00 371.25C854.75 370.96 866.22 368.34 868.00 368.00C869.78 367.66 881.72 365.68 883.50 365.50C885.28 365.32 897.19 364.85 898.50 365.00C899.81 365.15 905.10 367.42 906.00 368.00C906.90 368.58 913.10 374.23 914.00 375.00C914.90 375.77 920.62 380.59 921.50 381.25C922.38 381.91 928.07 385.59 929.00 386.25C929.93 386.91 936.57 391.70 937.50 392.50C938.43 393.30 944.12 399.27 945.00 400.00C945.88 400.73 951.62 404.49 952.50 405.00C953.38 405.51 958.69 408.31 960.00 408.75C961.31 409.19 973.66 412.18 975.00 412.50C976.34 412.82 981.66 414.13 983.00 414.25C984.34 414.37 996.25 414.60 998.00 414.50C999.75 414.40 1011.66 412.69 1013.00 412.50C1014.34 412.31 1020.12 411.44 1021.00 411.25C1021.88 411.06 1027.12 409.47 1028.00 409.25C1028.88 409.03 1035.07 407.68 1036.00 407.50C1036.93 407.32 1043.12 406.35 1044.00 406.25C1044.88 406.15 1050.12 405.71 1051.00 405.75C1051.88 405.79 1058.12 407.09 1059.00 407.00C1059.88 406.91 1065.12 404.47 1066.00 404.25C1066.88 404.03 1073.07 403.32 1074.00 403.25C1074.93 403.18 1081.12 403.12 1082.00 403.00C1082.88 402.88 1088.12 401.64 1089.00 401.25C1089.88 400.86 1096.12 396.69 1097.00 396.25C1097.88 395.81 1103.12 394.04 1104.00 393.75C1104.88 393.46 1111.07 391.54 1112.00 391.25C1112.93 390.96 1119.12 389.01 1120.00 388.75C1120.88 388.49 1126.12 386.97 1127.00 386.75C1127.88 386.53 1134.12 385.06 1135.00 385.00C1135.88 384.94 1141.12 385.72 1142.00 385.75C1142.88 385.78 1149.07 385.57 1150.00 385.50C1150.93 385.43 1157.12 384.60 1158.00 384.50C1158.88 384.40 1164.12 383.65 1165.00 383.75C1165.88 383.85 1172.04 385.96 1173.00 386.25C1173.96 386.54 1181.00 388.60 1181.50 388.75" fill="none" stroke="#000" stroke-width="2.05" stroke-linejoin="round"/>
<path d="M7.50 315.00C14.58 314.79 40.42 314.17 50.00 313.75C59.58 313.33 56.67 313.46 65.00 312.50C73.33 311.54 87.50 309.58 100.00 308.00C112.50 306.42 127.50 304.33 140.00 303.00C152.50 301.67 162.50 301.12 175.00 300.00C187.50 298.88 202.50 297.29 215.00 296.25C227.50 295.21 238.67 294.50 250.00 293.75C261.33 293.00 272.58 292.46 283.00 291.75C293.42 291.04 303.58 290.21 312.50 289.50C321.42 288.79 325.25 288.46 336.50 287.50C347.75 286.54 364.42 285.21 380.00 283.75C395.58 282.29 413.33 280.21 430.00 278.75C446.67 277.29 463.33 276.12 480.00 275.00C496.67 273.88 513.33 272.96 530.00 272.00C546.67 271.04 567.50 270.08 580.00 269.25C592.50 268.42 597.50 267.54 605.00 267.00C612.50 266.46 617.50 266.21 625.00 266.00C632.50 265.79 641.67 265.79 650.00 265.75C658.33 265.71 664.58 265.54 675.00 265.75C685.42 265.96 700.00 266.46 712.50 267.00C725.00 267.54 735.42 268.21 750.00 269.00C764.58 269.79 783.33 270.96 800.00 271.75C816.67 272.54 833.33 273.21 850.00 273.75C866.67 274.29 885.58 274.67 900.00 275.00C914.42 275.33 923.17 275.25 936.50 275.75C949.83 276.25 964.42 277.50 980.00 278.00C995.58 278.50 1013.33 278.50 1030.00 278.75C1046.67 279.00 1063.33 279.38 1080.00 279.50C1096.67 279.62 1113.08 279.58 1130.00 279.50C1146.92 279.42 1172.92 279.08 1181.50 279.00" fill="none" stroke="#d32f2f" stroke-width="3" stroke-linejoin="round"/>
<path d="M8.75 323.25C11.46 323.46 18.12 324.21 25.00 324.50C31.88 324.79 42.08 325.21 50.00 325.00C57.92 324.79 64.17 324.08 72.50 323.25C80.83 322.42 92.50 321.04 100.00 320.00C107.50 318.96 110.83 318.46 117.50 317.00C124.17 315.54 132.08 312.92 140.00 311.25C147.92 309.58 156.67 308.46 165.00 307.00C173.33 305.54 181.67 304.08 190.00 302.50C198.33 300.92 205.00 299.79 215.00 297.50C225.00 295.21 238.67 291.58 250.00 288.75C261.33 285.92 272.58 282.58 283.00 280.50C293.42 278.42 303.58 277.71 312.50 276.25C321.42 274.79 328.58 273.42 336.50 271.75C344.42 270.08 352.58 268.29 360.00 266.25C367.42 264.21 373.50 261.75 381.00 259.50C388.50 257.25 396.83 254.79 405.00 252.75C413.17 250.71 421.67 249.04 430.00 247.25C438.33 245.46 446.67 243.71 455.00 242.00C463.33 240.29 471.67 238.54 480.00 237.00C488.33 235.46 496.67 234.00 505.00 232.75C513.33 231.50 521.67 230.46 530.00 229.50C538.33 228.54 546.67 227.83 555.00 227.00C563.33 226.17 572.50 225.25 580.00 224.50C587.50 223.75 595.00 223.17 600.00 222.50C605.00 221.83 605.83 221.00 610.00 220.50C614.17 220.00 618.33 219.79 625.00 219.50C631.67 219.21 641.67 218.96 650.00 218.75C658.33 218.54 664.58 218.38 675.00 218.25C685.42 218.12 700.00 217.92 712.50 218.00C725.00 218.08 738.75 218.42 750.00 218.75C761.25 219.08 769.17 219.25 780.00 220.00C790.83 220.75 805.42 222.08 815.00 223.25C824.58 224.42 829.58 225.75 837.50 227.00C845.42 228.25 854.17 229.42 862.50 230.75C870.83 232.08 879.17 233.25 887.50 235.00C895.83 236.75 905.42 239.58 912.50 241.25C919.58 242.92 922.92 243.21 930.00 245.00C937.08 246.79 946.67 249.50 955.00 252.00C963.33 254.50 971.67 257.46 980.00 260.00C988.33 262.54 996.67 265.00 1005.00 267.25C1013.33 269.50 1021.67 271.67 1030.00 273.50C1038.33 275.33 1046.67 276.46 1055.00 278.25C1063.33 280.04 1071.67 282.08 1080.00 284.25C1088.33 286.42 1096.67 289.04 1105.00 291.25C1113.33 293.46 1121.67 295.21 1130.00 297.50C1138.33 299.79 1148.75 303.21 1155.00 305.00C1161.25 306.79 1163.08 307.17 1167.50 308.25C1171.92 309.33 1179.17 310.96 1181.50 311.50" fill="none" stroke="#2196f3" stroke-width="3.2" stroke-linejoin="round"/>
<path d="M7 322.5H1277" stroke="#26a69a" stroke-width="1" stroke-dasharray="1 2" fill="none"/>
<rect x="1118" y="132" width="125.2" height="25" rx="3.5" fill="#8bc98e"/>
<text x="1127.20" y="147.60" font-size="12" fill="#fff" textLength="107.00" lengthAdjust="spacingAndGlyphs" >47.25 (18.76%) 4725</text>
</g>
<text x="15.30" y="65.00" font-size="12" fill="#131722" font-weight="bold" textLength="240.00" lengthAdjust="spacingAndGlyphs" >Bitcoin Cash / U.S. Dollar, 12h, COINBASE</text>
<text x="15.30" y="82.00" font-size="12" fill="#131722" textLength="19.50" lengthAdjust="spacingAndGlyphs" >MA</text>
<text x="15.30" y="99.00" font-size="12" fill="#131722" textLength="19.50" lengthAdjust="spacingAndGlyphs" >MA</text>
<text x="15.30" y="116.00" font-size="12" fill="#131722" textLength="15.00" lengthAdjust="spacingAndGlyphs" >BB</text>
<text x="15.30" y="497.60" font-size="12" fill="#131722" textLength="35.00" lengthAdjust="spacingAndGlyphs" >MACD</text>
<g clip-path="url(#ca)">
<rect x="1278" y="47" width="4" height="1" fill="#e0e3eb"/>
<text x="1286.50" y="51.90" font-size="12" fill="#131722" textLength="35.50" lengthAdjust="spacingAndGlyphs" >360.00</text>
<rect x="1278" y="84" width="4" height="1" fill="#e0e3eb"/>
<text x="1286.50" y="88.86" font-size="12" fill="#131722" textLength="35.50" lengthAdjust="spacingAndGlyphs" >340.00</text>
<rect x="1278" y="123" width="4" height="1" fill="#e0e3eb"/>
<text x="1286.50" y="128.06" font-size="12" fill="#131722" textLength="35.50" lengthAdjust="spacingAndGlyphs" >320.00</text>
<rect x="1278" y="210" width="4" height="1" fill="#e0e3eb"/>
<text x="1286.50" y="214.40" font-size="12" fill="#131722" textLength="35.50" lengthAdjust="spacingAndGlyphs" >280.00</text>
<rect x="1278" y="258" width="4" height="1" fill="#e0e3eb"/>
<text x="1286.50" y="262.32" font-size="12" fill="#131722" textLength="35.50" lengthAdjust="spacingAndGlyphs" >260.00</text>
<rect x="1278" y="471" width="4" height="1" fill="#e0e3eb"/>
<text x="1286.50" y="475.42" font-size="12" fill="#131722" textLength="35.50" lengthAdjust="spacingAndGlyphs" >187.00</text>
</g>
<rect x="1293.5" y="50.5" width="31" height="19" rx="3.5" fill="#fff" stroke="#e0e3eb"/>
<text x="1298.00" y="63.20" font-size="12" fill="#131722" textLength="21.80" lengthAdjust="spacingAndGlyphs" >USD</text>
<rect x="1277.0" y="154.0" width="53.0" height="19.1" fill="#ff0000"/>
<rect x="1277.5" y="162.8" width="4" height="1" fill="#fff"/>
<text x="1286.50" y="167.60" font-size="12" fill="#fff" textLength="35.50" lengthAdjust="spacingAndGlyphs" >301.02</text>
<rect x="1277.0" y="270.0" width="53.0" height="19.5" fill="#d32f2f"/>
<rect x="1277.5" y="279.0" width="4" height="1" fill="#fff"/>
<text x="1286.50" y="283.80" font-size="12" fill="#fff" textLength="35.50" lengthAdjust="spacingAndGlyphs" >251.35</text>
<rect x="1277.0" y="302.0" width="53.0" height="19.5" fill="#2196f3"/>
<rect x="1277.5" y="311.0" width="4" height="1" fill="#fff"/>
<text x="1286.50" y="315.80" font-size="12" fill="#fff" textLength="35.50" lengthAdjust="spacingAndGlyphs" >239.46</text>
<rect x="1277.0" y="321.0" width="53.0" height="18.5" fill="#26a69a"/>
<rect x="1277.5" y="329.5" width="4" height="1" fill="#fff"/>
<text x="1286.50" y="334.30" font-size="12" fill="#fff" textLength="35.50" lengthAdjust="spacingAndGlyphs" >235.28</text>
<rect x="1278.0" y="340.0" width="59.0" height="18.9" fill="#26a69a"/>
<text x="1282.00" y="353.50" font-size="12" fill="#fff" textLength="46.50" lengthAdjust="spacingAndGlyphs" >07:17:46</text>
<rect x="1277.0" y="357.2" width="53.0" height="19.5" fill="#000"/>
<rect x="1277.5" y="366.2" width="4" height="1" fill="#fff"/>
<text x="1286.50" y="371.00" font-size="12" fill="#fff" textLength="35.50" lengthAdjust="spacingAndGlyphs" >234.97</text>
<rect x="1277.0" y="376.2" width="53.0" height="17.9" fill="#6aa84f"/>
<rect x="1277.5" y="384.4" width="4" height="1" fill="#fff"/>
<text x="1286.50" y="389.20" font-size="12" fill="#fff" textLength="35.50" lengthAdjust="spacingAndGlyphs" >230.02</text>
<rect x="1277.0" y="393.6" width="53.0" height="17.9" fill="#6aa84f"/>
<rect x="1277.5" y="401.8" width="4" height="1" fill="#fff"/>
<text x="1286.50" y="406.60" font-size="12" fill="#fff" textLength="35.50" lengthAdjust="spacingAndGlyphs" >225.09</text>
<rect x="1277.0" y="411.0" width="53.0" height="18.5" fill="#000"/>
<rect x="1277.5" y="419.5" width="4" height="1" fill="#fff"/>
<text x="1286.50" y="424.30" font-size="12" fill="#fff" textLength="35.50" lengthAdjust="spacingAndGlyphs" >223.62</text>
<rect x="1277.0" y="429.0" width="53.0" height="18.9" fill="#000"/>
<rect x="1277.5" y="437.7" width="4" height="1" fill="#fff"/>
<text x="1286.50" y="442.50" font-size="12" fill="#fff" textLength="35.50" lengthAdjust="spacingAndGlyphs" >212.27</text>
<g clip-path="url(#cd)">
<g fill="#b2dfdb"><rect x="6" y="545.00" width="6" height="5.90"/><rect x="13" y="545.00" width="7" height="5.90"/><rect x="44" y="543.00" width="6" height="7.90"/><rect x="90" y="533.75" width="6" height="17.15"/><rect x="97" y="536.75" width="7" height="14.15"/><rect x="105" y="536.75" width="6" height="14.15"/><rect x="112" y="537.50" width="7" height="13.40"/><rect x="120" y="538.75" width="7" height="12.15"/><rect x="143" y="545.00" width="6" height="5.90"/><rect x="150" y="549.50" width="7" height="1.40"/><rect x="386" y="544.50" width="7" height="6.40"/><rect x="394" y="548.00" width="6" height="2.90"/><rect x="614" y="547.00" width="7" height="3.90"/><rect x="622" y="548.75" width="6" height="2.15"/><rect x="789" y="543.75" width="7" height="7.15"/><rect x="827" y="541.25" width="7" height="9.65"/><rect x="835" y="542.00" width="6" height="8.90"/><rect x="850" y="542.00" width="7" height="8.90"/><rect x="858" y="542.00" width="6" height="8.90"/><rect x="865" y="543.00" width="7" height="7.90"/><rect x="873" y="543.00" width="6" height="7.90"/><rect x="880" y="544.00" width="7" height="6.90"/><rect x="888" y="545.75" width="7" height="5.15"/><rect x="896" y="547.00" width="6" height="3.90"/><rect x="1017" y="544.00" width="7" height="6.90"/><rect x="1040" y="544.50" width="7" height="6.40"/><rect x="1048" y="544.50" width="6" height="6.40"/><rect x="1063" y="544.50" width="7" height="6.40"/><rect x="1071" y="548.75" width="6" height="2.15"/><rect x="1078" y="549.50" width="7" height="1.40"/></g>
<g fill="#ffcdd2"><rect x="188" y="550.00" width="7" height="7.50"/><rect x="211" y="550.00" width="7" height="5.00"/><rect x="219" y="550.00" width="6" height="2.00"/><rect x="234" y="550.00" width="7" height="2.00"/><rect x="318" y="550.00" width="6" height="11.25"/><rect x="325" y="550.00" width="7" height="8.75"/><rect x="333" y="550.00" width="6" height="7.50"/><rect x="340" y="550.00" width="7" height="5.75"/><rect x="348" y="550.00" width="7" height="3.75"/><rect x="356" y="550.00" width="6" height="2.50"/><rect x="455" y="550.00" width="6" height="9.50"/><rect x="470" y="550.00" width="6" height="8.75"/><rect x="477" y="550.00" width="7" height="6.25"/><rect x="485" y="550.00" width="7" height="4.50"/><rect x="493" y="550.00" width="6" height="4.50"/><rect x="538" y="550.00" width="7" height="7.50"/><rect x="546" y="550.00" width="6" height="6.25"/><rect x="553" y="550.00" width="7" height="5.50"/><rect x="561" y="550.00" width="7" height="4.50"/><rect x="569" y="550.00" width="6" height="3.25"/><rect x="668" y="550.00" width="6" height="14.50"/><rect x="675" y="550.00" width="7" height="12.50"/><rect x="683" y="550.00" width="6" height="10.50"/><rect x="690" y="550.00" width="7" height="9.25"/><rect x="698" y="550.00" width="7" height="7.50"/><rect x="706" y="550.00" width="6" height="6.25"/><rect x="713" y="550.00" width="7" height="4.50"/><rect x="721" y="550.00" width="6" height="3.00"/><rect x="728" y="550.00" width="7" height="2.00"/><rect x="926" y="550.00" width="7" height="3.75"/><rect x="949" y="550.00" width="6" height="4.50"/><rect x="956" y="550.00" width="7" height="3.75"/><rect x="964" y="550.00" width="7" height="2.50"/><rect x="972" y="550.00" width="6" height="1.80"/><rect x="979" y="550.00" width="7" height="1.80"/><rect x="1109" y="550.00" width="6" height="2.00"/><rect x="1124" y="550.00" width="6" height="1.80"/><rect x="1139" y="550.00" width="7" height="1.80"/></g>
<g fill="#26a69a"><rect x="21" y="544.50" width="7" height="6.40"/><rect x="29" y="543.00" width="6" height="7.90"/><rect x="36" y="543.00" width="7" height="7.90"/><rect x="51" y="540.75" width="7" height="10.15"/><rect x="59" y="538.75" width="7" height="12.15"/><rect x="67" y="536.75" width="6" height="14.15"/><rect x="74" y="533.75" width="7" height="17.15"/><rect x="82" y="532.50" width="7" height="18.40"/><rect x="128" y="538.00" width="6" height="12.90"/><rect x="135" y="536.75" width="7" height="14.15"/><rect x="363" y="549.50" width="7" height="1.40"/><rect x="371" y="547.00" width="7" height="3.90"/><rect x="379" y="544.50" width="6" height="6.40"/><rect x="576" y="549.50" width="7" height="1.40"/><rect x="584" y="548.75" width="6" height="2.15"/><rect x="591" y="548.00" width="7" height="2.90"/><rect x="599" y="547.00" width="7" height="3.90"/><rect x="607" y="543.00" width="6" height="7.90"/><rect x="736" y="548.75" width="7" height="2.15"/><rect x="744" y="547.00" width="6" height="3.90"/><rect x="751" y="547.00" width="7" height="3.90"/><rect x="759" y="545.75" width="6" height="5.15"/><rect x="766" y="545.00" width="7" height="5.90"/><rect x="774" y="543.75" width="7" height="7.15"/><rect x="782" y="543.75" width="6" height="7.15"/><rect x="797" y="543.75" width="6" height="7.15"/><rect x="804" y="543.75" width="7" height="7.15"/><rect x="812" y="541.00" width="7" height="9.90"/><rect x="820" y="541.00" width="6" height="9.90"/><rect x="842" y="542.00" width="7" height="8.90"/><rect x="987" y="549.00" width="7" height="1.90"/><rect x="995" y="548.00" width="6" height="2.90"/><rect x="1002" y="546.25" width="7" height="4.65"/><rect x="1010" y="544.00" width="6" height="6.90"/><rect x="1025" y="544.00" width="7" height="6.90"/><rect x="1033" y="544.00" width="6" height="6.90"/><rect x="1055" y="544.00" width="7" height="6.90"/><rect x="1154" y="549.50" width="7" height="1.40"/><rect x="1162" y="548.75" width="6" height="2.15"/><rect x="1169" y="547.00" width="7" height="3.90"/><rect x="1177" y="545.00" width="7" height="5.90"/></g>
<g fill="#ef5350"><rect x="158" y="550.00" width="7" height="3.00"/><rect x="166" y="550.00" width="6" height="3.75"/><rect x="173" y="550.00" width="7" height="5.75"/><rect x="181" y="550.00" width="6" height="8.00"/><rect x="196" y="550.00" width="7" height="8.00"/><rect x="204" y="550.00" width="6" height="8.00"/><rect x="226" y="550.00" width="7" height="3.00"/><rect x="242" y="550.00" width="6" height="3.00"/><rect x="249" y="550.00" width="7" height="3.75"/><rect x="257" y="550.00" width="6" height="5.00"/><rect x="264" y="550.00" width="7" height="7.00"/><rect x="272" y="550.00" width="7" height="6.75"/><rect x="280" y="550.00" width="6" height="8.00"/><rect x="287" y="550.00" width="7" height="12.00"/><rect x="295" y="550.00" width="6" height="13.00"/><rect x="302" y="550.00" width="7" height="13.00"/><rect x="310" y="550.00" width="7" height="14.25"/><rect x="401" y="550.00" width="7" height="2.00"/><rect x="409" y="550.00" width="7" height="3.75"/><rect x="417" y="550.00" width="6" height="5.75"/><rect x="424" y="550.00" width="7" height="6.75"/><rect x="432" y="550.00" width="6" height="6.75"/><rect x="439" y="550.00" width="7" height="8.75"/><rect x="447" y="550.00" width="7" height="10.00"/><rect x="462" y="550.00" width="7" height="9.50"/><rect x="500" y="550.00" width="7" height="6.25"/><rect x="508" y="550.00" width="6" height="7.00"/><rect x="515" y="550.00" width="7" height="7.00"/><rect x="523" y="550.00" width="7" height="6.75"/><rect x="531" y="550.00" width="6" height="8.75"/><rect x="629" y="550.00" width="7" height="2.50"/><rect x="637" y="550.00" width="7" height="10.50"/><rect x="645" y="550.00" width="6" height="12.50"/><rect x="652" y="550.00" width="7" height="14.50"/><rect x="660" y="550.00" width="6" height="15.50"/><rect x="903" y="550.00" width="7" height="1.80"/><rect x="911" y="550.00" width="6" height="3.75"/><rect x="918" y="550.00" width="7" height="5.00"/><rect x="934" y="550.00" width="6" height="5.00"/><rect x="941" y="550.00" width="7" height="5.75"/><rect x="1086" y="550.00" width="6" height="2.00"/><rect x="1093" y="550.00" width="7" height="2.00"/><rect x="1101" y="550.00" width="7" height="2.00"/><rect x="1116" y="550.00" width="7" height="1.80"/><rect x="1131" y="550.00" width="7" height="1.80"/><rect x="1147" y="550.00" width="6" height="1.80"/></g>
<path d="M7.50 545.75C8.13 545.73 15.87 545.63 17.00 545.50C18.13 545.37 23.48 544.15 24.50 543.75C25.52 543.35 31.20 539.95 32.25 539.50C33.30 539.05 39.25 537.22 40.25 537.00C41.25 536.78 46.25 536.63 47.25 536.25C48.25 535.87 54.25 531.87 55.25 531.25C56.25 530.63 61.27 527.58 62.25 527.00C63.23 526.42 68.93 523.30 70.00 522.50C71.07 521.70 77.23 515.87 78.25 515.00C79.27 514.13 84.25 510.08 85.25 509.50C86.25 508.92 92.25 506.52 93.25 506.25C94.25 505.98 99.25 505.72 100.25 505.50C101.25 505.28 107.20 503.32 108.25 503.00C109.30 502.68 115.00 501.08 116.00 500.75C117.00 500.42 122.25 498.42 123.25 498.00C124.25 497.58 130.00 495.00 131.00 494.50C132.00 494.00 137.23 490.33 138.25 490.50C139.27 490.67 145.20 496.23 146.25 497.00C147.30 497.77 153.00 501.50 154.00 502.00C155.00 502.50 160.25 504.25 161.25 504.50C162.25 504.75 168.00 505.38 169.00 505.75C170.00 506.12 175.23 509.50 176.25 510.00C177.27 510.50 183.20 512.95 184.25 513.25C185.30 513.55 191.00 514.30 192.00 514.50C193.00 514.70 198.25 515.97 199.25 516.25C200.25 516.53 206.00 518.75 207.00 518.75C208.00 518.75 213.25 516.63 214.25 516.25C215.25 515.87 220.95 513.12 222.00 513.00C223.05 512.88 228.98 514.37 230.00 514.50C231.02 514.63 236.25 514.88 237.25 515.00C238.25 515.12 243.95 516.08 245.00 516.25C246.05 516.42 251.98 517.25 253.00 517.50C254.02 517.75 259.25 519.67 260.25 520.00C261.25 520.33 267.02 522.22 268.00 522.50C268.98 522.78 274.00 523.95 275.00 524.25C276.00 524.55 281.93 526.37 283.00 527.00C284.07 527.63 290.00 533.05 291.00 533.75C292.00 534.45 297.02 537.00 298.00 537.50C298.98 538.00 304.75 540.78 305.75 541.25C306.75 541.72 311.98 544.32 313.00 544.50C314.02 544.68 319.93 544.02 321.00 544.00C322.07 543.98 327.98 544.22 329.00 544.25C330.02 544.28 335.27 544.48 336.25 544.50C337.23 544.52 342.73 544.60 343.75 544.50C344.77 544.40 350.48 543.17 351.50 543.00C352.52 542.83 358.00 542.23 359.00 542.00C360.00 541.77 365.48 539.93 366.50 539.50C367.52 539.07 373.23 535.97 374.25 535.50C375.27 535.03 380.73 532.73 381.75 532.50C382.77 532.27 388.48 531.92 389.50 532.00C390.52 532.08 396.00 533.42 397.00 533.75C398.00 534.08 403.48 536.53 404.50 537.00C405.52 537.47 411.23 540.33 412.25 540.75C413.27 541.17 418.73 542.97 419.75 543.25C420.77 543.53 426.48 544.75 427.50 545.00C428.52 545.25 434.00 546.58 435.00 547.00C436.00 547.42 441.48 550.75 442.50 551.25C443.52 551.75 449.23 554.17 450.25 554.50C451.27 554.83 456.73 555.97 457.75 556.25C458.77 556.53 464.48 558.50 465.50 558.75C466.52 559.00 472.00 560.00 473.00 560.00C474.00 560.00 479.48 558.88 480.50 558.75C481.52 558.62 487.23 558.03 488.25 558.00C489.27 557.97 494.73 558.07 495.75 558.25C496.77 558.43 502.48 560.42 503.50 560.75C504.52 561.08 510.00 562.97 511.00 563.25C512.00 563.53 517.48 564.75 518.50 565.00C519.52 565.25 525.23 566.67 526.25 567.00C527.27 567.33 532.73 569.75 533.75 570.00C534.77 570.25 540.48 570.63 541.50 570.75C542.52 570.87 548.00 571.67 549.00 571.75C550.00 571.83 555.48 571.95 556.50 572.00C557.52 572.05 563.23 572.52 564.25 572.50C565.27 572.48 570.73 572.00 571.75 571.75C572.77 571.50 578.48 569.08 579.50 568.75C580.52 568.42 586.00 566.95 587.00 566.75C588.00 566.55 593.48 565.95 594.50 565.75C595.52 565.55 601.23 564.25 602.25 563.75C603.27 563.25 608.73 558.47 609.75 558.25C610.77 558.03 616.48 560.22 617.50 560.50C618.52 560.78 624.00 562.12 625.00 562.50C626.00 562.88 631.50 565.28 632.50 566.25C633.50 567.22 638.98 575.92 640.00 577.00C641.02 578.08 646.70 581.80 647.75 582.50C648.80 583.20 654.73 586.87 655.75 587.50C656.77 588.13 662.02 591.50 663.00 592.00C663.98 592.50 669.48 594.77 670.50 595.00C671.52 595.23 677.23 595.42 678.25 595.50C679.27 595.58 684.73 596.12 685.75 596.25C686.77 596.38 692.48 597.47 693.50 597.50C694.52 597.53 700.00 596.78 701.00 596.75C702.00 596.72 707.48 597.00 708.50 597.00C709.52 597.00 715.23 596.88 716.25 596.75C717.27 596.62 722.73 595.20 723.75 595.00C724.77 594.80 730.48 593.97 731.50 593.75C732.52 593.53 738.00 592.05 739.00 591.75C740.00 591.45 745.48 589.53 746.50 589.25C747.52 588.97 753.23 587.75 754.25 587.50C755.27 587.25 760.73 585.75 761.75 585.50C762.77 585.25 768.48 584.07 769.50 583.75C770.52 583.43 776.00 581.03 777.00 580.75C778.00 580.47 783.48 579.67 784.50 579.50C785.52 579.33 791.23 578.42 792.25 578.25C793.27 578.08 798.73 577.22 799.75 577.00C800.77 576.78 806.48 575.42 807.50 575.00C808.52 574.58 814.00 571.25 815.00 570.75C816.00 570.25 821.48 567.85 822.50 567.50C823.52 567.15 829.23 565.72 830.25 565.50C831.27 565.28 836.73 564.48 837.75 564.25C838.77 564.02 844.48 562.25 845.50 562.00C846.52 561.75 852.00 560.72 853.00 560.50C854.00 560.28 859.48 558.98 860.50 558.75C861.52 558.52 867.23 557.20 868.25 557.00C869.27 556.80 874.73 555.88 875.75 555.75C876.77 555.62 882.48 555.02 883.50 555.00C884.52 554.98 890.00 555.38 891.00 555.50C892.00 555.62 897.48 556.42 898.50 556.75C899.52 557.08 905.23 560.03 906.25 560.50C907.27 560.97 912.73 563.42 913.75 563.75C914.77 564.08 920.48 565.37 921.50 565.50C922.52 565.63 928.00 565.65 929.00 565.75C930.00 565.85 935.48 566.77 936.50 567.00C937.52 567.23 943.23 569.10 944.25 569.25C945.27 569.40 950.73 569.28 951.75 569.25C952.77 569.22 958.48 568.82 959.50 568.75C960.52 568.68 966.00 568.33 967.00 568.25C968.00 568.17 973.48 567.60 974.50 567.50C975.52 567.40 981.23 566.92 982.25 566.75C983.27 566.58 988.73 565.20 989.75 565.00C990.77 564.80 996.48 564.08 997.50 563.75C998.52 563.42 1004.00 560.47 1005.00 560.00C1006.00 559.53 1011.48 557.08 1012.50 556.75C1013.52 556.42 1019.23 555.23 1020.25 555.00C1021.27 554.77 1026.73 553.47 1027.75 553.25C1028.77 553.03 1034.48 551.88 1035.50 551.75C1036.52 551.62 1042.00 551.37 1043.00 551.25C1044.00 551.13 1049.48 550.22 1050.50 550.00C1051.52 549.78 1057.23 548.17 1058.25 548.00C1059.27 547.83 1064.73 547.33 1065.75 547.50C1066.77 547.67 1072.48 550.22 1073.50 550.50C1074.52 550.78 1080.00 551.62 1081.00 551.75C1082.00 551.88 1087.48 552.37 1088.50 552.50C1089.52 552.63 1095.23 553.63 1096.25 553.75C1097.27 553.87 1102.73 554.22 1103.75 554.25C1104.77 554.28 1110.48 554.23 1111.50 554.25C1112.52 554.27 1118.00 554.50 1119.00 554.50C1120.00 554.50 1125.48 554.27 1126.50 554.25C1127.52 554.23 1133.23 554.23 1134.25 554.25C1135.27 554.27 1140.73 554.45 1141.75 554.50C1142.77 554.55 1148.48 555.02 1149.50 555.00C1150.52 554.98 1156.00 554.37 1157.00 554.25C1158.00 554.13 1163.48 553.53 1164.50 553.25C1165.52 552.97 1171.17 550.45 1172.25 550.00C1173.33 549.55 1180.18 546.73 1180.75 546.50" fill="none" stroke="#2196f3" stroke-width="1.1" stroke-linejoin="round"/>
<path d="M7.50 551.25C8.13 551.17 15.87 550.17 17.00 550.00C18.13 549.83 23.48 548.95 24.50 548.75C25.52 548.55 31.20 547.25 32.25 547.00C33.30 546.75 39.25 545.25 40.25 545.00C41.25 544.75 46.25 543.53 47.25 543.25C48.25 542.97 54.25 541.10 55.25 540.75C56.25 540.40 61.27 538.42 62.25 538.00C63.23 537.58 68.93 535.03 70.00 534.50C71.07 533.97 77.23 530.55 78.25 530.00C79.27 529.45 84.25 526.75 85.25 526.25C86.25 525.75 92.25 522.95 93.25 522.50C94.25 522.05 99.25 519.92 100.25 519.50C101.25 519.08 107.20 516.68 108.25 516.25C109.30 515.82 115.00 513.42 116.00 513.00C117.00 512.58 122.25 510.45 123.25 510.00C124.25 509.55 130.00 506.70 131.00 506.25C132.00 505.80 137.23 503.53 138.25 503.25C139.27 502.97 145.20 502.08 146.25 502.00C147.30 501.92 153.00 501.97 154.00 502.00C155.00 502.03 160.25 502.42 161.25 502.50C162.25 502.58 168.00 503.08 169.00 503.25C170.00 503.42 175.23 504.75 176.25 505.00C177.27 505.25 183.20 506.75 184.25 507.00C185.30 507.25 191.00 508.50 192.00 508.75C193.00 509.00 198.25 510.53 199.25 510.75C200.25 510.97 206.00 511.88 207.00 512.00C208.00 512.12 213.25 512.47 214.25 512.50C215.25 512.53 220.95 512.45 222.00 512.50C223.05 512.55 228.98 513.17 230.00 513.25C231.02 513.33 236.25 513.68 237.25 513.75C238.25 513.82 243.95 514.17 245.00 514.25C246.05 514.33 251.98 514.87 253.00 515.00C254.02 515.13 259.25 516.08 260.25 516.25C261.25 516.42 267.02 517.33 268.00 517.50C268.98 517.67 274.00 518.53 275.00 518.75C276.00 518.97 281.93 520.45 283.00 520.75C284.07 521.05 290.00 522.88 291.00 523.25C292.00 523.62 297.02 525.83 298.00 526.25C298.98 526.67 304.75 529.08 305.75 529.50C306.75 529.92 311.98 532.13 313.00 532.50C314.02 532.87 319.93 534.72 321.00 535.00C322.07 535.28 327.98 536.55 329.00 536.75C330.02 536.95 335.27 537.83 336.25 538.00C337.23 538.17 342.73 539.12 343.75 539.25C344.77 539.38 350.48 539.92 351.50 540.00C352.52 540.08 358.00 540.50 359.00 540.50C360.00 540.50 365.48 540.08 366.50 540.00C367.52 539.92 373.23 539.38 374.25 539.25C375.27 539.12 380.73 538.17 381.75 538.00C382.77 537.83 388.48 536.87 389.50 536.75C390.52 536.63 396.00 536.28 397.00 536.25C398.00 536.22 403.48 536.20 404.50 536.25C405.52 536.30 411.23 536.87 412.25 537.00C413.27 537.13 418.73 538.08 419.75 538.25C420.77 538.42 426.48 539.30 427.50 539.50C428.52 539.70 434.00 541.00 435.00 541.25C436.00 541.50 441.48 542.95 442.50 543.25C443.52 543.55 449.23 545.43 450.25 545.75C451.27 546.07 456.73 547.72 457.75 548.00C458.77 548.28 464.48 549.73 465.50 550.00C466.52 550.27 472.00 551.78 473.00 552.00C474.00 552.22 479.48 553.08 480.50 553.25C481.52 553.42 487.23 554.35 488.25 554.50C489.27 554.65 494.73 555.35 495.75 555.50C496.77 555.65 502.48 556.58 503.50 556.75C504.52 556.92 510.00 557.82 511.00 558.00C512.00 558.18 517.48 559.28 518.50 559.50C519.52 559.72 525.23 561.00 526.25 561.25C527.27 561.50 532.73 563.03 533.75 563.25C534.77 563.47 540.48 564.30 541.50 564.50C542.52 564.70 548.00 566.05 549.00 566.25C550.00 566.45 555.48 567.37 556.50 567.50C557.52 567.63 563.23 568.13 564.25 568.25C565.27 568.37 570.73 569.22 571.75 569.25C572.77 569.28 578.48 568.82 579.50 568.75C580.52 568.68 586.00 568.30 587.00 568.25C588.00 568.20 593.48 568.08 594.50 568.00C595.52 567.92 601.23 567.17 602.25 567.00C603.27 566.83 608.73 565.67 609.75 565.50C610.77 565.33 616.48 564.58 617.50 564.50C618.52 564.42 624.00 564.25 625.00 564.25C626.00 564.25 631.50 564.32 632.50 564.50C633.50 564.68 638.98 566.63 640.00 567.00C641.02 567.37 646.70 569.55 647.75 570.00C648.80 570.45 654.73 573.33 655.75 573.75C656.77 574.17 662.02 575.83 663.00 576.25C663.98 576.67 669.48 579.55 670.50 580.00C671.52 580.45 677.23 582.62 678.25 583.00C679.27 583.38 684.73 585.40 685.75 585.75C686.77 586.10 692.48 587.97 693.50 588.25C694.52 588.53 700.00 589.80 701.00 590.00C702.00 590.20 707.48 591.08 708.50 591.25C709.52 591.42 715.23 592.37 716.25 592.50C717.27 592.63 722.73 593.20 723.75 593.25C724.77 593.30 730.48 593.27 731.50 593.25C732.52 593.23 738.00 593.05 739.00 593.00C740.00 592.95 745.48 592.62 746.50 592.50C747.52 592.38 753.23 591.42 754.25 591.25C755.27 591.08 760.73 590.17 761.75 590.00C762.77 589.83 768.48 588.95 769.50 588.75C770.52 588.55 776.00 587.22 777.00 587.00C778.00 586.78 783.48 585.72 784.50 585.50C785.52 585.28 791.23 583.98 792.25 583.75C793.27 583.52 798.73 582.20 799.75 582.00C800.77 581.80 806.48 580.97 807.50 580.75C808.52 580.53 814.00 579.05 815.00 578.75C816.00 578.45 821.48 576.53 822.50 576.25C823.52 575.97 829.23 574.75 830.25 574.50C831.27 574.25 836.73 572.77 837.75 572.50C838.77 572.23 844.48 570.78 845.50 570.50C846.52 570.22 852.00 568.53 853.00 568.25C854.00 567.97 859.48 566.50 860.50 566.25C861.52 566.00 867.23 564.75 868.25 564.50C869.27 564.25 874.73 562.75 875.75 562.50C876.77 562.25 882.48 560.95 883.50 560.75C884.52 560.55 890.00 559.63 891.00 559.50C892.00 559.37 897.48 558.77 898.50 558.75C899.52 558.73 905.23 559.13 906.25 559.25C907.27 559.37 912.73 560.37 913.75 560.50C914.77 560.63 920.48 561.15 921.50 561.25C922.52 561.35 928.00 561.88 929.00 562.00C930.00 562.12 935.48 562.85 936.50 563.00C937.52 563.15 943.23 564.12 944.25 564.25C945.27 564.38 950.73 564.90 951.75 565.00C952.77 565.10 958.48 565.67 959.50 565.75C960.52 565.83 966.00 566.20 967.00 566.25C968.00 566.30 973.48 566.48 974.50 566.50C975.52 566.52 981.23 566.53 982.25 566.50C983.27 566.47 988.73 566.05 989.75 566.00C990.77 565.95 996.48 565.85 997.50 565.75C998.52 565.65 1004.00 564.68 1005.00 564.50C1006.00 564.32 1011.48 563.22 1012.50 563.00C1013.52 562.78 1019.23 561.48 1020.25 561.25C1021.27 561.02 1026.73 559.72 1027.75 559.50C1028.77 559.28 1034.48 558.18 1035.50 558.00C1036.52 557.82 1042.00 556.95 1043.00 556.75C1044.00 556.55 1049.48 555.23 1050.50 555.00C1051.52 554.77 1057.23 553.45 1058.25 553.25C1059.27 553.05 1064.73 552.10 1065.75 552.00C1066.77 551.90 1072.48 551.77 1073.50 551.75C1074.52 551.73 1080.00 551.73 1081.00 551.75C1082.00 551.77 1087.48 551.95 1088.50 552.00C1089.52 552.05 1095.23 552.43 1096.25 552.50C1097.27 552.57 1102.73 552.95 1103.75 553.00C1104.77 553.05 1110.48 553.20 1111.50 553.25C1112.52 553.30 1118.00 553.72 1119.00 553.75C1120.00 553.78 1125.48 553.72 1126.50 553.75C1127.52 553.78 1133.23 554.22 1134.25 554.25C1135.27 554.28 1140.73 554.23 1141.75 554.25C1142.77 554.27 1148.48 554.50 1149.50 554.50C1150.52 554.50 1156.00 554.30 1157.00 554.25C1158.00 554.20 1163.48 553.87 1164.50 553.75C1165.52 553.63 1171.17 552.65 1172.25 552.50C1173.33 552.35 1180.18 551.57 1180.75 551.50" fill="none" stroke="#ff6d00" stroke-width="1.1" stroke-linejoin="round"/>
</g>
<rect x="1278" y="488" width="4" height="1" fill="#e0e3eb"/>
<text x="1286.50" y="493.10" font-size="12" fill="#131722" textLength="29.00" lengthAdjust="spacingAndGlyphs" >20.00</text>
<rect x="1278" y="519" width="4" height="1" fill="#e0e3eb"/>
<text x="1286.50" y="523.90" font-size="12" fill="#131722" textLength="29.00" lengthAdjust="spacingAndGlyphs" >10.00</text>
<rect x="1277.0" y="536.2" width="40.5" height="18.1" fill="#26a69a"/>
<rect x="1277.5" y="545.3" width="4" height="1" fill="#fff"/>
<text x="1286.50" y="550.10" font-size="12" fill="#fff" textLength="22.50" lengthAdjust="spacingAndGlyphs" >1.64</text>
<rect x="1277.0" y="553.8" width="40.5" height="18.7" fill="#2196f3"/>
<rect x="1277.5" y="563.2" width="4" height="1" fill="#fff"/>
<text x="1286.50" y="568.00" font-size="12" fill="#fff" textLength="22.50" lengthAdjust="spacingAndGlyphs" >1.24</text>
<rect x="1277.0" y="572.0" width="46.5" height="19.3" fill="#ff6d00"/>
<rect x="1277.5" y="580.9" width="4" height="1" fill="#fff"/>
<text x="1286.50" y="585.70" font-size="12" fill="#fff" textLength="29.00" lengthAdjust="spacingAndGlyphs" >−0.40</text>
<rect x="40" y="610" width="1" height="3" fill="#e0e3eb"/>
<text x="33.40" y="629.30" font-size="12" fill="#131722" textLength="12.60" lengthAdjust="spacingAndGlyphs" >26</text>
<rect x="131" y="610" width="1" height="3" fill="#e0e3eb"/>
<text x="120.20" y="629.30" font-size="12" fill="#131722" font-weight="bold" textLength="21.00" lengthAdjust="spacingAndGlyphs" >Aug</text>
<rect x="268" y="610" width="1" height="3" fill="#e0e3eb"/>
<text x="261.40" y="629.30" font-size="12" fill="#131722" textLength="12.60" lengthAdjust="spacingAndGlyphs" >10</text>
<rect x="374" y="610" width="1" height="3" fill="#e0e3eb"/>
<text x="367.40" y="629.30" font-size="12" fill="#131722" textLength="12.60" lengthAdjust="spacingAndGlyphs" >17</text>
<rect x="481" y="610" width="1" height="3" fill="#e0e3eb"/>
<text x="474.40" y="629.30" font-size="12" fill="#131722" textLength="12.60" lengthAdjust="spacingAndGlyphs" >24</text>
<rect x="602" y="610" width="1" height="3" fill="#e0e3eb"/>
<text x="591.55" y="629.30" font-size="12" fill="#131722" font-weight="bold" textLength="20.30" lengthAdjust="spacingAndGlyphs" >Sep</text>
<rect x="694" y="610" width="1" height="3" fill="#e0e3eb"/>
<text x="690.55" y="629.30" font-size="12" fill="#131722" textLength="6.30" lengthAdjust="spacingAndGlyphs" >7</text>
<rect x="800" y="610" width="1" height="3" fill="#e0e3eb"/>
<text x="793.40" y="629.30" font-size="12" fill="#131722" textLength="12.60" lengthAdjust="spacingAndGlyphs" >14</text>
<rect x="907" y="610" width="1" height="3" fill="#e0e3eb"/>
<text x="900.40" y="629.30" font-size="12" fill="#131722" textLength="12.60" lengthAdjust="spacingAndGlyphs" >21</text>
<rect x="1059" y="610" width="1" height="3" fill="#e0e3eb"/>
<text x="1048.80" y="629.30" font-size="12" fill="#131722" font-weight="bold" textLength="19.80" lengthAdjust="spacingAndGlyphs" >Oct</text>
<rect x="1142" y="610" width="1" height="3" fill="#e0e3eb"/>
<text x="1126.90" y="629.30" font-size="12" fill="#131722" textLength="29.60" lengthAdjust="spacingAndGlyphs" >12:00</text>
<rect x="1226" y="610" width="1" height="3" fill="#e0e3eb"/>
<text x="1219.40" y="629.30" font-size="12" fill="#131722" textLength="12.60" lengthAdjust="spacingAndGlyphs" >12</text>
<g fill="#2196f3"><ellipse cx="17" cy="653.5" rx="5.4" ry="4.7"/><circle cx="25.3" cy="656.1" r="3.3"/><circle cx="10.5" cy="658.9" r="4.6"/><circle cx="28.1" cy="659.8" r="3.95"/><rect x="8.5" y="655.5" width="21.5" height="8.3" rx="2.5"/></g>
<path d="M6.2 661.6L16 654.45L22 660.25L28.8 653.6" fill="none" stroke="#fff" stroke-width="1.05"/>
<circle cx="16" cy="654.45" r="1.8" fill="#fff"/><circle cx="22" cy="660.25" r="1.8" fill="#fff"/>
<text x="33.70" y="661.20" font-size="13" fill="#131722" textLength="70.50" lengthAdjust="spacingAndGlyphs" >TradingView</text>
</svg>
</body></html>
